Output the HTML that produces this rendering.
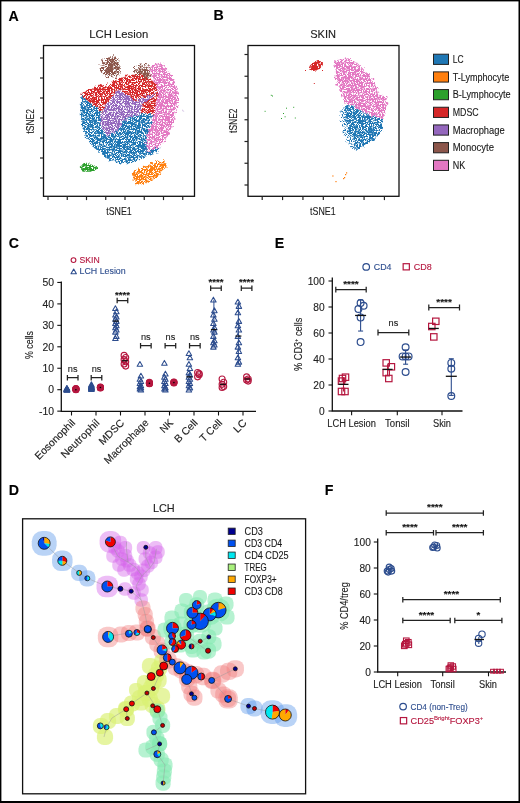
<!DOCTYPE html>
<html><head><meta charset="utf-8"><style>
html,body{margin:0;padding:0;background:#fff;}
svg{display:block;font-family:"Liberation Sans", sans-serif;will-change:transform;}
</style></head><body>
<svg width="520" height="803" viewBox="0 0 520 803">
<defs>
<filter id="spk" x="-10%" y="-10%" width="120%" height="120%" color-interpolation-filters="sRGB">
<feTurbulence type="fractalNoise" baseFrequency="0.3" numOctaves="2" seed="2" result="t1"/>
<feDisplacementMap in="SourceGraphic" in2="t1" scale="6" xChannelSelector="R" yChannelSelector="G" result="d"/>
<feTurbulence type="fractalNoise" baseFrequency="1.7" numOctaves="1" seed="5" result="t2"/>
<feColorMatrix in="t2" type="matrix" values="0 0 0 0 0 0 0 0 0 0 0 0 0 0 0 9 0 0 0 -3.45" result="m"/>
<feComposite in="d" in2="m" operator="in" result="c"/>
<feGaussianBlur in="c" stdDeviation="0.35"/>
</filter>
<filter id="spk2" x="-20%" y="-20%" width="140%" height="140%" color-interpolation-filters="sRGB">
<feTurbulence type="fractalNoise" baseFrequency="0.3" numOctaves="2" seed="3" result="t1"/>
<feDisplacementMap in="SourceGraphic" in2="t1" scale="7" xChannelSelector="R" yChannelSelector="G" result="d"/>
<feTurbulence type="fractalNoise" baseFrequency="1.7" numOctaves="1" seed="9" result="t2"/>
<feColorMatrix in="t2" type="matrix" values="0 0 0 0 0 0 0 0 0 0 0 0 0 0 0 9 0 0 0 -4.2" result="m"/>
<feComposite in="d" in2="m" operator="in" result="c"/>
<feGaussianBlur in="c" stdDeviation="0.35"/>
</filter>
<filter id="spk3" x="-30%" y="-30%" width="160%" height="160%" color-interpolation-filters="sRGB">
<feTurbulence type="fractalNoise" baseFrequency="0.4" numOctaves="2" seed="4" result="t1"/>
<feDisplacementMap in="SourceGraphic" in2="t1" scale="3" xChannelSelector="R" yChannelSelector="G" result="d"/>
<feTurbulence type="fractalNoise" baseFrequency="1.7" numOctaves="1" seed="11" result="t2"/>
<feColorMatrix in="t2" type="matrix" values="0 0 0 0 0 0 0 0 0 0 0 0 0 0 0 9 0 0 0 -3.0" result="m"/>
<feComposite in="d" in2="m" operator="in" result="c"/>
<feGaussianBlur in="c" stdDeviation="0.3"/>
</filter>
</defs>
<rect x="0" y="0" width="520" height="803" fill="#fff"/>
<text x="118.80" y="37.70" font-size="11.2" text-anchor="middle" fill="#222" stroke="#222" stroke-width="0.12" textLength="59" lengthAdjust="spacingAndGlyphs" >LCH Lesion</text>
<g filter="url(#spk2)">
<ellipse cx="111" cy="67.5" rx="10.5" ry="11.5" fill="#8c564b" transform="rotate(0 111 67.5)"/>
<ellipse cx="143" cy="72" rx="9" ry="9" fill="#8c564b" transform="rotate(0 143 72)"/>
</g><g filter="url(#spk)">
<ellipse cx="111.5" cy="67" rx="7" ry="8.5" fill="#8c564b" transform="rotate(10 111.5 67)"/>
<ellipse cx="143" cy="73" rx="6" ry="6" fill="#8c564b" transform="rotate(0 143 73)"/>
<polygon points="81.3,93.1 94.0,86.7 106.7,84.6 119.4,78.3 130.0,75.1 138.5,74.0 149.0,78.3 156.4,84.6 163.0,94.0 163.0,112.0 153.3,114.0 138.5,115.3 140.6,114.2 142.7,103.7 134.2,100.5 129.0,95.2 119.4,89.9 115.2,92.0 109.9,99.4 100.4,114.2 100.4,112.1 81.0,96.0" fill="#d62728"/>
<polygon points="81.3,95.2 100.4,112.1 101.4,126.9 106.7,135.4 117.3,131.2 121.5,122.7 127.9,118.5 140.6,114.2 150.1,114.2 160.0,114.0 158.0,152.0 146.9,155.4 140.0,160.0 130.0,163.0 120.0,163.5 110.0,160.5 100.0,153.0 92.0,146.0 86.0,137.0 82.0,126.0 80.5,110.0" fill="#1f77b4"/>
<polygon points="119.4,89.9 129.0,95.2 134.2,100.5 146.9,96.3 159.6,93.1 142.7,103.7 140.6,114.2 127.9,118.5 121.5,122.7 117.3,131.2 106.7,135.4 101.4,126.9 100.4,114.2 109.9,99.4 115.2,92.0" fill="#9467bd"/>
<polygon points="149.0,67.7 155.0,63.0 162.0,63.5 168.1,69.8 174.4,80.4 178.7,93.1 177.5,105.0 176.5,110.0 172.3,126.9 166.0,139.6 157.5,148.1 146.9,152.3 145.9,139.6 151.2,122.7 155.4,103.7 158.6,91.0 153.3,80.4" fill="#e377c2"/>
</g><g filter="url(#spk3)">
<polygon points="79.5,166.9 84.8,162.2 91.2,164.3 98,168 93.3,171.7 82.7,171.7" fill="#2ca02c"/>
</g><g filter="url(#spk)">
<polygon points="133.5,171.2 141.9,166.9 154.6,162.2 163.1,160 166.8,165.9 161,173.8 152.5,180 141.9,185 135.6,184 132,177.5" fill="#ff7f0e"/>
<path d="M182 109l2 3h-3z" fill="#9467bd" fill-opacity="0.6"/>
</g>
<rect x="43.5" y="45.5" width="151.0" height="150.8" fill="none" stroke="#111" stroke-width="1.3"/>
<line x1="40.00" y1="58.00" x2="43.50" y2="58.00" stroke="#222" stroke-width="1.2" />
<line x1="40.00" y1="78.00" x2="43.50" y2="78.00" stroke="#222" stroke-width="1.2" />
<line x1="40.00" y1="98.00" x2="43.50" y2="98.00" stroke="#222" stroke-width="1.2" />
<line x1="40.00" y1="118.00" x2="43.50" y2="118.00" stroke="#222" stroke-width="1.2" />
<line x1="40.00" y1="138.00" x2="43.50" y2="138.00" stroke="#222" stroke-width="1.2" />
<line x1="40.00" y1="158.00" x2="43.50" y2="158.00" stroke="#222" stroke-width="1.2" />
<line x1="40.00" y1="178.00" x2="43.50" y2="178.00" stroke="#222" stroke-width="1.2" />
<line x1="48.00" y1="196.30" x2="48.00" y2="200.10" stroke="#222" stroke-width="1.2" />
<line x1="67.25" y1="196.30" x2="67.25" y2="200.10" stroke="#222" stroke-width="1.2" />
<line x1="86.50" y1="196.30" x2="86.50" y2="200.10" stroke="#222" stroke-width="1.2" />
<line x1="105.75" y1="196.30" x2="105.75" y2="200.10" stroke="#222" stroke-width="1.2" />
<line x1="125.00" y1="196.30" x2="125.00" y2="200.10" stroke="#222" stroke-width="1.2" />
<line x1="144.25" y1="196.30" x2="144.25" y2="200.10" stroke="#222" stroke-width="1.2" />
<line x1="163.50" y1="196.30" x2="163.50" y2="200.10" stroke="#222" stroke-width="1.2" />
<line x1="182.75" y1="196.30" x2="182.75" y2="200.10" stroke="#222" stroke-width="1.2" />
<text x="119.00" y="214.60" font-size="11.8" text-anchor="middle" fill="#222" stroke="#222" stroke-width="0.12" textLength="25.5" lengthAdjust="spacingAndGlyphs" >tSNE1</text>
<text x="0.00" y="0.00" font-size="11.8" text-anchor="middle" fill="#222" stroke="#222" stroke-width="0.12" textLength="24.5" lengthAdjust="spacingAndGlyphs" transform="translate(34 121.3) rotate(-90)">tSNE2</text>
<text x="323.10" y="37.50" font-size="11.2" text-anchor="middle" fill="#222" stroke="#222" stroke-width="0.12" textLength="25.8" lengthAdjust="spacingAndGlyphs" >SKIN</text>
<g filter="url(#spk)">
<polygon points="335.5,60.3 349.2,58.2 359.8,65.6 368.3,74.0 374.6,82.5 377.8,93.1 386.3,97.3 387.3,103.7 383.1,118.5 372.5,116.4 359.8,111.1 353.5,105.8 346.1,104.7 340.8,93.1 336.5,82.5 334.4,67.7" fill="#e377c2"/>
<polygon points="346.1,104.7 353.5,105.8 359.8,111.1 372.5,116.4 383.1,118.5 382.0,131.2 374.6,139.6 364.0,146.0 355.6,151.3 353.0,141.0 348.0,131.0 346.0,116.0" fill="#1f77b4"/>
</g><g filter="url(#spk2)">
<polygon points="342,108 347,104 348,125 352,140 355,150 349,145 343,134 340,120" fill="#1f77b4"/>
</g><g filter="url(#spk3)">
<ellipse cx="316" cy="66" rx="7.5" ry="4.2" fill="#d62728" transform="rotate(-25 316 66)"/>
</g>
<rect x="270.8" y="94.8" width="1" height="1" fill="#2ca02c"/>
<rect x="264.6" y="110.8" width="1" height="1" fill="#2ca02c"/>
<rect x="284.6" y="116.3" width="1" height="1" fill="#2ca02c"/>
<rect x="286" y="107.7" width="1" height="1" fill="#2ca02c"/>
<rect x="294.8" y="117.5" width="1" height="1" fill="#2ca02c"/>
<rect x="283" y="113" width="1" height="1" fill="#2ca02c"/>
<rect x="281" y="118" width="1" height="1" fill="#2ca02c"/>
<rect x="293.2" y="106.8" width="1" height="1" fill="#2ca02c"/>
<rect x="272" y="95.5" width="1" height="1" fill="#2ca02c"/>
<rect x="313.8" y="83" width="1" height="1" fill="#d62728"/>
<rect x="305" y="70" width="1" height="1" fill="#d62728"/>
<rect x="322" y="70" width="1" height="1" fill="#d62728"/>
<rect x="346" y="172.3" width="1.2" height="1.2" fill="#ff7f0e"/>
<rect x="332.3" y="175.4" width="1.2" height="1.2" fill="#ff7f0e"/>
<rect x="335.4" y="181" width="1.2" height="1.2" fill="#ff7f0e"/>
<rect x="344" y="177" width="1.2" height="1.2" fill="#ff7f0e"/>
<rect x="345" y="174" width="1.2" height="1.2" fill="#ff7f0e"/>
<rect x="343" y="178" width="1.2" height="1.2" fill="#ff7f0e"/>
<rect x="248" y="45.5" width="151" height="150.8" fill="none" stroke="#111" stroke-width="1.3"/>
<line x1="244.50" y1="54.50" x2="248.00" y2="54.50" stroke="#222" stroke-width="1.2" />
<line x1="244.50" y1="76.25" x2="248.00" y2="76.25" stroke="#222" stroke-width="1.2" />
<line x1="244.50" y1="98.00" x2="248.00" y2="98.00" stroke="#222" stroke-width="1.2" />
<line x1="244.50" y1="119.75" x2="248.00" y2="119.75" stroke="#222" stroke-width="1.2" />
<line x1="244.50" y1="141.50" x2="248.00" y2="141.50" stroke="#222" stroke-width="1.2" />
<line x1="244.50" y1="163.25" x2="248.00" y2="163.25" stroke="#222" stroke-width="1.2" />
<line x1="244.50" y1="185.00" x2="248.00" y2="185.00" stroke="#222" stroke-width="1.2" />
<line x1="262.20" y1="196.30" x2="262.20" y2="200.10" stroke="#222" stroke-width="1.2" />
<line x1="282.57" y1="196.30" x2="282.57" y2="200.10" stroke="#222" stroke-width="1.2" />
<line x1="302.94" y1="196.30" x2="302.94" y2="200.10" stroke="#222" stroke-width="1.2" />
<line x1="323.31" y1="196.30" x2="323.31" y2="200.10" stroke="#222" stroke-width="1.2" />
<line x1="343.68" y1="196.30" x2="343.68" y2="200.10" stroke="#222" stroke-width="1.2" />
<line x1="364.05" y1="196.30" x2="364.05" y2="200.10" stroke="#222" stroke-width="1.2" />
<line x1="384.42" y1="196.30" x2="384.42" y2="200.10" stroke="#222" stroke-width="1.2" />
<text x="322.80" y="214.60" font-size="11.8" text-anchor="middle" fill="#222" stroke="#222" stroke-width="0.12" textLength="25.5" lengthAdjust="spacingAndGlyphs" >tSNE1</text>
<text x="0.00" y="0.00" font-size="11.8" text-anchor="middle" fill="#222" stroke="#222" stroke-width="0.12" textLength="24.5" lengthAdjust="spacingAndGlyphs" transform="translate(237 120.7) rotate(-90)">tSNE2</text>
<rect x="433.5" y="54.20" width="15" height="10.2" fill="#1f77b4" stroke="#222" stroke-width="1"/>
<text x="452.70" y="62.90" font-size="10.1" text-anchor="start" fill="#1a1a1a" stroke="#1a1a1a" stroke-width="0.12" textLength="10.8" lengthAdjust="spacingAndGlyphs" >LC</text>
<rect x="433.5" y="71.88" width="15" height="10.2" fill="#ff7f0e" stroke="#222" stroke-width="1"/>
<text x="452.70" y="80.58" font-size="10.1" text-anchor="start" fill="#1a1a1a" stroke="#1a1a1a" stroke-width="0.12" textLength="56.5" lengthAdjust="spacingAndGlyphs" >T-Lymphocyte</text>
<rect x="433.5" y="89.56" width="15" height="10.2" fill="#2ca02c" stroke="#222" stroke-width="1"/>
<text x="452.70" y="98.26" font-size="10.1" text-anchor="start" fill="#1a1a1a" stroke="#1a1a1a" stroke-width="0.12" textLength="58" lengthAdjust="spacingAndGlyphs" >B-Lymphocyte</text>
<rect x="433.5" y="107.24" width="15" height="10.2" fill="#d62728" stroke="#222" stroke-width="1"/>
<text x="452.70" y="115.94" font-size="10.1" text-anchor="start" fill="#1a1a1a" stroke="#1a1a1a" stroke-width="0.12" textLength="26" lengthAdjust="spacingAndGlyphs" >MDSC</text>
<rect x="433.5" y="124.92" width="15" height="10.2" fill="#9467bd" stroke="#222" stroke-width="1"/>
<text x="452.70" y="133.62" font-size="10.1" text-anchor="start" fill="#1a1a1a" stroke="#1a1a1a" stroke-width="0.12" textLength="52" lengthAdjust="spacingAndGlyphs" >Macrophage</text>
<rect x="433.5" y="142.60" width="15" height="10.2" fill="#8c564b" stroke="#222" stroke-width="1"/>
<text x="452.70" y="151.30" font-size="10.1" text-anchor="start" fill="#1a1a1a" stroke="#1a1a1a" stroke-width="0.12" textLength="41.3" lengthAdjust="spacingAndGlyphs" >Monocyte</text>
<rect x="433.5" y="160.28" width="15" height="10.2" fill="#e377c2" stroke="#222" stroke-width="1"/>
<text x="452.70" y="168.98" font-size="10.1" text-anchor="start" fill="#1a1a1a" stroke="#1a1a1a" stroke-width="0.12" textLength="12.5" lengthAdjust="spacingAndGlyphs" >NK</text>
<circle cx="73.50" cy="260.10" r="2.4" fill="none" stroke="#b5173f" stroke-width="1.1"/>
<text x="79.50" y="262.80" font-size="9" text-anchor="start" fill="#b5173f" stroke="#b5173f" stroke-width="0.12" textLength="20.2" lengthAdjust="spacingAndGlyphs" >SKIN</text>
<path d="M73.70 269.09L76.40 273.79H71.00Z" fill="none" stroke="#2d4d8e" stroke-width="1.1" stroke-linejoin="round"/>
<text x="79.50" y="274.30" font-size="9" text-anchor="start" fill="#2d4d8e" stroke="#2d4d8e" stroke-width="0.12" textLength="46.2" lengthAdjust="spacingAndGlyphs" >LCH Lesion</text>
<path d="M61.3 281.5V411.3H256" fill="none" stroke="#111" stroke-width="1.3"/>
<line x1="57.30" y1="411.15" x2="61.30" y2="411.15" stroke="#111" stroke-width="1.1" />
<text x="54.00" y="414.85" font-size="10.4" text-anchor="end" fill="#222" stroke="#222" stroke-width="0.12" >-10</text>
<line x1="57.30" y1="389.70" x2="61.30" y2="389.70" stroke="#111" stroke-width="1.1" />
<text x="54.00" y="393.40" font-size="10.4" text-anchor="end" fill="#222" stroke="#222" stroke-width="0.12" >0</text>
<line x1="57.30" y1="368.25" x2="61.30" y2="368.25" stroke="#111" stroke-width="1.1" />
<text x="54.00" y="371.95" font-size="10.4" text-anchor="end" fill="#222" stroke="#222" stroke-width="0.12" >10</text>
<line x1="57.30" y1="346.80" x2="61.30" y2="346.80" stroke="#111" stroke-width="1.1" />
<text x="54.00" y="350.50" font-size="10.4" text-anchor="end" fill="#222" stroke="#222" stroke-width="0.12" >20</text>
<line x1="57.30" y1="325.35" x2="61.30" y2="325.35" stroke="#111" stroke-width="1.1" />
<text x="54.00" y="329.05" font-size="10.4" text-anchor="end" fill="#222" stroke="#222" stroke-width="0.12" >30</text>
<line x1="57.30" y1="303.90" x2="61.30" y2="303.90" stroke="#111" stroke-width="1.1" />
<text x="54.00" y="307.60" font-size="10.4" text-anchor="end" fill="#222" stroke="#222" stroke-width="0.12" >40</text>
<line x1="57.30" y1="282.45" x2="61.30" y2="282.45" stroke="#111" stroke-width="1.1" />
<text x="54.00" y="286.15" font-size="10.4" text-anchor="end" fill="#222" stroke="#222" stroke-width="0.12" >50</text>
<line x1="71.50" y1="411.30" x2="71.50" y2="415.50" stroke="#111" stroke-width="1.1" />
<line x1="96.00" y1="411.30" x2="96.00" y2="415.50" stroke="#111" stroke-width="1.1" />
<line x1="120.50" y1="411.30" x2="120.50" y2="415.50" stroke="#111" stroke-width="1.1" />
<line x1="145.00" y1="411.30" x2="145.00" y2="415.50" stroke="#111" stroke-width="1.1" />
<line x1="169.50" y1="411.30" x2="169.50" y2="415.50" stroke="#111" stroke-width="1.1" />
<line x1="194.00" y1="411.30" x2="194.00" y2="415.50" stroke="#111" stroke-width="1.1" />
<line x1="218.50" y1="411.30" x2="218.50" y2="415.50" stroke="#111" stroke-width="1.1" />
<line x1="243.00" y1="411.30" x2="243.00" y2="415.50" stroke="#111" stroke-width="1.1" />
<text x="0.00" y="0.00" font-size="10.5" text-anchor="middle" fill="#222" stroke="#222" stroke-width="0.12" textLength="28" lengthAdjust="spacingAndGlyphs" transform="translate(32.6 345) rotate(-90)">% cells</text>
<text x="0.00" y="0.00" font-size="10.5" text-anchor="end" fill="#222" stroke="#222" stroke-width="0.12" textLength="52" lengthAdjust="spacingAndGlyphs" transform="translate(75.80 423.50) rotate(-45)">Eosonophil</text>
<text x="0.00" y="0.00" font-size="10.5" text-anchor="end" fill="#222" stroke="#222" stroke-width="0.12" textLength="50" lengthAdjust="spacingAndGlyphs" transform="translate(100.30 423.50) rotate(-45)">Neutrophil</text>
<text x="0.00" y="0.00" font-size="10.5" text-anchor="end" fill="#222" stroke="#222" stroke-width="0.12" textLength="31" lengthAdjust="spacingAndGlyphs" transform="translate(124.80 423.50) rotate(-45)">MDSC</text>
<text x="0.00" y="0.00" font-size="10.5" text-anchor="end" fill="#222" stroke="#222" stroke-width="0.12" textLength="58" lengthAdjust="spacingAndGlyphs" transform="translate(149.30 423.50) rotate(-45)">Macrophage</text>
<text x="0.00" y="0.00" font-size="10.5" text-anchor="end" fill="#222" stroke="#222" stroke-width="0.12" textLength="14" lengthAdjust="spacingAndGlyphs" transform="translate(173.80 423.50) rotate(-45)">NK</text>
<text x="0.00" y="0.00" font-size="10.5" text-anchor="end" fill="#222" stroke="#222" stroke-width="0.12" textLength="28" lengthAdjust="spacingAndGlyphs" transform="translate(198.30 423.50) rotate(-45)">B Cell</text>
<text x="0.00" y="0.00" font-size="10.5" text-anchor="end" fill="#222" stroke="#222" stroke-width="0.12" textLength="27" lengthAdjust="spacingAndGlyphs" transform="translate(222.80 423.50) rotate(-45)">T Cell</text>
<text x="0.00" y="0.00" font-size="10.5" text-anchor="end" fill="#222" stroke="#222" stroke-width="0.12" textLength="14" lengthAdjust="spacingAndGlyphs" transform="translate(247.30 423.50) rotate(-45)">LC</text>
<path d="M66.90 387.23L69.65 392.02H64.15Z" fill="#2d4d8e" stroke="#2d4d8e" stroke-width="1.05" stroke-linejoin="round"/>
<path d="M66.90 387.23L69.65 392.02H64.15Z" fill="#2d4d8e" stroke="#2d4d8e" stroke-width="1.05" stroke-linejoin="round"/>
<path d="M66.90 386.59L69.65 391.37H64.15Z" fill="#2d4d8e" stroke="#2d4d8e" stroke-width="1.05" stroke-linejoin="round"/>
<path d="M66.90 386.16L69.65 390.95H64.15Z" fill="#2d4d8e" stroke="#2d4d8e" stroke-width="1.05" stroke-linejoin="round"/>
<path d="M66.90 387.23L69.65 392.02H64.15Z" fill="#2d4d8e" stroke="#2d4d8e" stroke-width="1.05" stroke-linejoin="round"/>
<path d="M66.90 386.80L69.65 391.59H64.15Z" fill="#2d4d8e" stroke="#2d4d8e" stroke-width="1.05" stroke-linejoin="round"/>
<path d="M66.90 385.52L69.65 390.30H64.15Z" fill="#2d4d8e" stroke="#2d4d8e" stroke-width="1.05" stroke-linejoin="round"/>
<path d="M66.90 386.38L69.65 391.16H64.15Z" fill="#2d4d8e" stroke="#2d4d8e" stroke-width="1.05" stroke-linejoin="round"/>
<path d="M66.90 387.02L69.65 391.80H64.15Z" fill="#2d4d8e" stroke="#2d4d8e" stroke-width="1.05" stroke-linejoin="round"/>
<path d="M66.90 385.95L69.65 390.73H64.15Z" fill="#2d4d8e" stroke="#2d4d8e" stroke-width="1.05" stroke-linejoin="round"/>
<circle cx="75.90" cy="389.70" r="3.0" fill="#b5173f" stroke="#b5173f" stroke-width="1.1"/>
<circle cx="75.90" cy="389.27" r="3.0" fill="#b5173f" stroke="#b5173f" stroke-width="1.1"/>
<circle cx="75.90" cy="388.63" r="3.0" fill="#b5173f" stroke="#b5173f" stroke-width="1.1"/>
<circle cx="75.90" cy="389.06" r="3.0" fill="#b5173f" stroke="#b5173f" stroke-width="1.1"/>
<circle cx="75.90" cy="389.49" r="3.0" fill="#b5173f" stroke="#b5173f" stroke-width="1.1"/>
<circle cx="75.90" cy="388.84" r="3.0" fill="#b5173f" stroke="#b5173f" stroke-width="1.1"/>
<circle cx="75.90" cy="389.70" r="0.8" fill="#000"/>
<path d="M91.40 386.16L94.15 390.95H88.65Z" fill="#2d4d8e" stroke="#2d4d8e" stroke-width="1.05" stroke-linejoin="round"/>
<path d="M91.40 385.09L94.15 389.87H88.65Z" fill="#2d4d8e" stroke="#2d4d8e" stroke-width="1.05" stroke-linejoin="round"/>
<path d="M91.40 384.02L94.15 388.80H88.65Z" fill="#2d4d8e" stroke="#2d4d8e" stroke-width="1.05" stroke-linejoin="round"/>
<path d="M91.40 382.94L94.15 387.73H88.65Z" fill="#2d4d8e" stroke="#2d4d8e" stroke-width="1.05" stroke-linejoin="round"/>
<path d="M91.40 381.87L94.15 386.66H88.65Z" fill="#2d4d8e" stroke="#2d4d8e" stroke-width="1.05" stroke-linejoin="round"/>
<path d="M91.40 385.09L94.15 389.87H88.65Z" fill="#2d4d8e" stroke="#2d4d8e" stroke-width="1.05" stroke-linejoin="round"/>
<path d="M91.40 385.52L94.15 390.30H88.65Z" fill="#2d4d8e" stroke="#2d4d8e" stroke-width="1.05" stroke-linejoin="round"/>
<path d="M91.40 384.66L94.15 389.44H88.65Z" fill="#2d4d8e" stroke="#2d4d8e" stroke-width="1.05" stroke-linejoin="round"/>
<path d="M91.40 383.37L94.15 388.16H88.65Z" fill="#2d4d8e" stroke="#2d4d8e" stroke-width="1.05" stroke-linejoin="round"/>
<path d="M91.40 386.59L94.15 391.37H88.65Z" fill="#2d4d8e" stroke="#2d4d8e" stroke-width="1.05" stroke-linejoin="round"/>
<circle cx="100.40" cy="387.56" r="3.0" fill="#b5173f" stroke="#b5173f" stroke-width="1.1"/>
<circle cx="100.40" cy="387.13" r="3.0" fill="#b5173f" stroke="#b5173f" stroke-width="1.1"/>
<circle cx="100.40" cy="387.98" r="3.0" fill="#b5173f" stroke="#b5173f" stroke-width="1.1"/>
<circle cx="100.40" cy="387.34" r="3.0" fill="#b5173f" stroke="#b5173f" stroke-width="1.1"/>
<circle cx="100.40" cy="387.77" r="3.0" fill="#b5173f" stroke="#b5173f" stroke-width="1.1"/>
<circle cx="100.40" cy="387.56" r="0.8" fill="#000"/>
<path d="M115.40 305.72L118.15 310.51H112.65Z" fill="none" stroke="#2d4d8e" stroke-width="1.05" stroke-linejoin="round"/>
<path d="M116.40 308.94L119.15 313.73H113.65Z" fill="none" stroke="#2d4d8e" stroke-width="1.05" stroke-linejoin="round"/>
<path d="M115.40 312.16L118.15 316.94H112.65Z" fill="none" stroke="#2d4d8e" stroke-width="1.05" stroke-linejoin="round"/>
<path d="M116.40 314.30L119.15 319.09H113.65Z" fill="none" stroke="#2d4d8e" stroke-width="1.05" stroke-linejoin="round"/>
<path d="M115.40 316.45L118.15 321.23H112.65Z" fill="none" stroke="#2d4d8e" stroke-width="1.05" stroke-linejoin="round"/>
<path d="M116.40 318.59L119.15 323.38H113.65Z" fill="none" stroke="#2d4d8e" stroke-width="1.05" stroke-linejoin="round"/>
<path d="M115.40 320.74L118.15 325.52H112.65Z" fill="none" stroke="#2d4d8e" stroke-width="1.05" stroke-linejoin="round"/>
<path d="M116.40 322.88L119.15 327.67H113.65Z" fill="none" stroke="#2d4d8e" stroke-width="1.05" stroke-linejoin="round"/>
<path d="M115.40 325.03L118.15 329.81H112.65Z" fill="none" stroke="#2d4d8e" stroke-width="1.05" stroke-linejoin="round"/>
<path d="M116.40 327.17L119.15 331.96H113.65Z" fill="none" stroke="#2d4d8e" stroke-width="1.05" stroke-linejoin="round"/>
<path d="M115.40 329.32L118.15 334.10H112.65Z" fill="none" stroke="#2d4d8e" stroke-width="1.05" stroke-linejoin="round"/>
<path d="M116.40 333.61L119.15 338.39H113.65Z" fill="none" stroke="#2d4d8e" stroke-width="1.05" stroke-linejoin="round"/>
<path d="M115.40 335.75L118.15 340.54H112.65Z" fill="none" stroke="#2d4d8e" stroke-width="1.05" stroke-linejoin="round"/>
<circle cx="124.10" cy="355.38" r="3.0" fill="none" stroke="#b5173f" stroke-width="1.1"/>
<circle cx="125.70" cy="357.52" r="3.0" fill="none" stroke="#b5173f" stroke-width="1.1"/>
<circle cx="124.10" cy="359.67" r="3.0" fill="none" stroke="#b5173f" stroke-width="1.1"/>
<circle cx="125.70" cy="361.81" r="3.0" fill="none" stroke="#b5173f" stroke-width="1.1"/>
<circle cx="124.10" cy="363.96" r="3.0" fill="none" stroke="#b5173f" stroke-width="1.1"/>
<circle cx="125.70" cy="366.11" r="3.0" fill="none" stroke="#b5173f" stroke-width="1.1"/>
<line x1="112.90" y1="321.06" x2="118.90" y2="321.06" stroke="#111" stroke-width="1.2" />
<line x1="121.90" y1="360.74" x2="127.90" y2="360.74" stroke="#111" stroke-width="1.2" />
<path d="M139.90 361.49L142.65 366.28H137.15Z" fill="none" stroke="#2d4d8e" stroke-width="1.05" stroke-linejoin="round"/>
<path d="M140.90 373.29L143.65 378.08H138.15Z" fill="none" stroke="#2d4d8e" stroke-width="1.05" stroke-linejoin="round"/>
<path d="M139.90 376.51L142.65 381.29H137.15Z" fill="none" stroke="#2d4d8e" stroke-width="1.05" stroke-linejoin="round"/>
<path d="M140.90 378.65L143.65 383.44H138.15Z" fill="none" stroke="#2d4d8e" stroke-width="1.05" stroke-linejoin="round"/>
<path d="M139.90 380.80L142.65 385.58H137.15Z" fill="none" stroke="#2d4d8e" stroke-width="1.05" stroke-linejoin="round"/>
<path d="M140.90 382.94L143.65 387.73H138.15Z" fill="none" stroke="#2d4d8e" stroke-width="1.05" stroke-linejoin="round"/>
<path d="M139.90 384.02L142.65 388.80H137.15Z" fill="none" stroke="#2d4d8e" stroke-width="1.05" stroke-linejoin="round"/>
<path d="M140.90 385.09L143.65 389.87H138.15Z" fill="none" stroke="#2d4d8e" stroke-width="1.05" stroke-linejoin="round"/>
<path d="M139.90 386.16L142.65 390.95H137.15Z" fill="none" stroke="#2d4d8e" stroke-width="1.05" stroke-linejoin="round"/>
<path d="M140.90 387.23L143.65 392.02H138.15Z" fill="none" stroke="#2d4d8e" stroke-width="1.05" stroke-linejoin="round"/>
<circle cx="149.40" cy="383.26" r="3.0" fill="#b5173f" stroke="#b5173f" stroke-width="1.1"/>
<circle cx="149.40" cy="382.84" r="3.0" fill="#b5173f" stroke="#b5173f" stroke-width="1.1"/>
<circle cx="149.40" cy="383.69" r="3.0" fill="#b5173f" stroke="#b5173f" stroke-width="1.1"/>
<circle cx="149.40" cy="382.41" r="3.0" fill="#b5173f" stroke="#b5173f" stroke-width="1.1"/>
<circle cx="149.40" cy="383.48" r="3.0" fill="#b5173f" stroke="#b5173f" stroke-width="1.1"/>
<circle cx="149.40" cy="383.26" r="0.8" fill="#000"/>
<path d="M164.40 360.42L167.15 365.21H161.65Z" fill="none" stroke="#2d4d8e" stroke-width="1.05" stroke-linejoin="round"/>
<path d="M165.40 371.15L168.15 375.93H162.65Z" fill="none" stroke="#2d4d8e" stroke-width="1.05" stroke-linejoin="round"/>
<path d="M164.40 374.36L167.15 379.15H161.65Z" fill="none" stroke="#2d4d8e" stroke-width="1.05" stroke-linejoin="round"/>
<path d="M165.40 376.51L168.15 381.29H162.65Z" fill="none" stroke="#2d4d8e" stroke-width="1.05" stroke-linejoin="round"/>
<path d="M164.40 378.65L167.15 383.44H161.65Z" fill="none" stroke="#2d4d8e" stroke-width="1.05" stroke-linejoin="round"/>
<path d="M165.40 380.80L168.15 385.58H162.65Z" fill="none" stroke="#2d4d8e" stroke-width="1.05" stroke-linejoin="round"/>
<path d="M164.40 382.94L167.15 387.73H161.65Z" fill="none" stroke="#2d4d8e" stroke-width="1.05" stroke-linejoin="round"/>
<path d="M165.40 385.09L168.15 389.87H162.65Z" fill="none" stroke="#2d4d8e" stroke-width="1.05" stroke-linejoin="round"/>
<path d="M164.40 386.16L167.15 390.95H161.65Z" fill="none" stroke="#2d4d8e" stroke-width="1.05" stroke-linejoin="round"/>
<path d="M165.40 387.23L168.15 392.02H162.65Z" fill="none" stroke="#2d4d8e" stroke-width="1.05" stroke-linejoin="round"/>
<circle cx="173.90" cy="382.62" r="3.0" fill="#b5173f" stroke="#b5173f" stroke-width="1.1"/>
<circle cx="173.90" cy="382.19" r="3.0" fill="#b5173f" stroke="#b5173f" stroke-width="1.1"/>
<circle cx="173.90" cy="383.05" r="3.0" fill="#b5173f" stroke="#b5173f" stroke-width="1.1"/>
<circle cx="173.90" cy="381.98" r="3.0" fill="#b5173f" stroke="#b5173f" stroke-width="1.1"/>
<circle cx="173.90" cy="382.62" r="0.8" fill="#000"/>
<path d="M188.90 350.77L191.65 355.55H186.15Z" fill="none" stroke="#2d4d8e" stroke-width="1.05" stroke-linejoin="round"/>
<path d="M189.90 355.06L192.65 359.84H187.15Z" fill="none" stroke="#2d4d8e" stroke-width="1.05" stroke-linejoin="round"/>
<path d="M188.90 361.49L191.65 366.28H186.15Z" fill="none" stroke="#2d4d8e" stroke-width="1.05" stroke-linejoin="round"/>
<path d="M189.90 365.78L192.65 370.57H187.15Z" fill="none" stroke="#2d4d8e" stroke-width="1.05" stroke-linejoin="round"/>
<path d="M188.90 370.07L191.65 374.86H186.15Z" fill="none" stroke="#2d4d8e" stroke-width="1.05" stroke-linejoin="round"/>
<path d="M189.90 372.22L192.65 377.00H187.15Z" fill="none" stroke="#2d4d8e" stroke-width="1.05" stroke-linejoin="round"/>
<path d="M188.90 374.36L191.65 379.15H186.15Z" fill="none" stroke="#2d4d8e" stroke-width="1.05" stroke-linejoin="round"/>
<path d="M189.90 376.51L192.65 381.29H187.15Z" fill="none" stroke="#2d4d8e" stroke-width="1.05" stroke-linejoin="round"/>
<path d="M188.90 378.65L191.65 383.44H186.15Z" fill="none" stroke="#2d4d8e" stroke-width="1.05" stroke-linejoin="round"/>
<path d="M189.90 380.80L192.65 385.58H187.15Z" fill="none" stroke="#2d4d8e" stroke-width="1.05" stroke-linejoin="round"/>
<path d="M188.90 382.94L191.65 387.73H186.15Z" fill="none" stroke="#2d4d8e" stroke-width="1.05" stroke-linejoin="round"/>
<path d="M189.90 385.09L192.65 389.87H187.15Z" fill="none" stroke="#2d4d8e" stroke-width="1.05" stroke-linejoin="round"/>
<path d="M188.90 387.23L191.65 392.02H186.15Z" fill="none" stroke="#2d4d8e" stroke-width="1.05" stroke-linejoin="round"/>
<circle cx="197.60" cy="372.54" r="3.0" fill="none" stroke="#b5173f" stroke-width="1.1"/>
<circle cx="199.20" cy="374.69" r="3.0" fill="none" stroke="#b5173f" stroke-width="1.1"/>
<circle cx="197.60" cy="376.83" r="3.0" fill="none" stroke="#b5173f" stroke-width="1.1"/>
<circle cx="199.20" cy="373.61" r="3.0" fill="none" stroke="#b5173f" stroke-width="1.1"/>
<line x1="186.40" y1="376.83" x2="192.40" y2="376.83" stroke="#111" stroke-width="1.2" />
<line x1="213.90" y1="299.61" x2="213.90" y2="346.80" stroke="#2d4d8e" stroke-width="1.0" />
<path d="M213.40 297.14L216.15 301.93H210.65Z" fill="none" stroke="#2d4d8e" stroke-width="1.05" stroke-linejoin="round"/>
<path d="M214.40 307.87L217.15 312.65H211.65Z" fill="none" stroke="#2d4d8e" stroke-width="1.05" stroke-linejoin="round"/>
<path d="M213.40 312.16L216.15 316.94H210.65Z" fill="none" stroke="#2d4d8e" stroke-width="1.05" stroke-linejoin="round"/>
<path d="M214.40 316.45L217.15 321.23H211.65Z" fill="none" stroke="#2d4d8e" stroke-width="1.05" stroke-linejoin="round"/>
<path d="M213.40 320.74L216.15 325.52H210.65Z" fill="none" stroke="#2d4d8e" stroke-width="1.05" stroke-linejoin="round"/>
<path d="M214.40 325.03L217.15 329.81H211.65Z" fill="none" stroke="#2d4d8e" stroke-width="1.05" stroke-linejoin="round"/>
<path d="M213.40 327.17L216.15 331.96H210.65Z" fill="none" stroke="#2d4d8e" stroke-width="1.05" stroke-linejoin="round"/>
<path d="M214.40 329.32L217.15 334.10H211.65Z" fill="none" stroke="#2d4d8e" stroke-width="1.05" stroke-linejoin="round"/>
<path d="M213.40 333.61L216.15 338.39H210.65Z" fill="none" stroke="#2d4d8e" stroke-width="1.05" stroke-linejoin="round"/>
<path d="M214.40 337.90L217.15 342.68H211.65Z" fill="none" stroke="#2d4d8e" stroke-width="1.05" stroke-linejoin="round"/>
<path d="M213.40 340.04L216.15 344.83H210.65Z" fill="none" stroke="#2d4d8e" stroke-width="1.05" stroke-linejoin="round"/>
<path d="M214.40 342.19L217.15 346.97H211.65Z" fill="none" stroke="#2d4d8e" stroke-width="1.05" stroke-linejoin="round"/>
<path d="M213.40 344.33L216.15 349.12H210.65Z" fill="none" stroke="#2d4d8e" stroke-width="1.05" stroke-linejoin="round"/>
<circle cx="222.10" cy="378.97" r="3.0" fill="none" stroke="#b5173f" stroke-width="1.1"/>
<circle cx="223.70" cy="382.19" r="3.0" fill="none" stroke="#b5173f" stroke-width="1.1"/>
<circle cx="222.10" cy="384.34" r="3.0" fill="none" stroke="#b5173f" stroke-width="1.1"/>
<circle cx="223.70" cy="386.48" r="3.0" fill="none" stroke="#b5173f" stroke-width="1.1"/>
<circle cx="222.10" cy="387.56" r="3.0" fill="none" stroke="#b5173f" stroke-width="1.1"/>
<line x1="210.90" y1="329.64" x2="216.90" y2="329.64" stroke="#111" stroke-width="1.2" />
<line x1="219.90" y1="384.34" x2="225.90" y2="384.34" stroke="#111" stroke-width="1.2" />
<line x1="238.40" y1="301.75" x2="238.40" y2="363.96" stroke="#2d4d8e" stroke-width="1.0" />
<path d="M237.90 299.29L240.65 304.07H235.15Z" fill="none" stroke="#2d4d8e" stroke-width="1.05" stroke-linejoin="round"/>
<path d="M238.90 303.58L241.65 308.36H236.15Z" fill="none" stroke="#2d4d8e" stroke-width="1.05" stroke-linejoin="round"/>
<path d="M237.90 310.01L240.65 314.80H235.15Z" fill="none" stroke="#2d4d8e" stroke-width="1.05" stroke-linejoin="round"/>
<path d="M238.90 318.59L241.65 323.38H236.15Z" fill="none" stroke="#2d4d8e" stroke-width="1.05" stroke-linejoin="round"/>
<path d="M237.90 322.88L240.65 327.67H235.15Z" fill="none" stroke="#2d4d8e" stroke-width="1.05" stroke-linejoin="round"/>
<path d="M238.90 327.17L241.65 331.96H236.15Z" fill="none" stroke="#2d4d8e" stroke-width="1.05" stroke-linejoin="round"/>
<path d="M237.90 333.61L240.65 338.39H235.15Z" fill="none" stroke="#2d4d8e" stroke-width="1.05" stroke-linejoin="round"/>
<path d="M238.90 340.04L241.65 344.83H236.15Z" fill="none" stroke="#2d4d8e" stroke-width="1.05" stroke-linejoin="round"/>
<path d="M237.90 344.33L240.65 349.12H235.15Z" fill="none" stroke="#2d4d8e" stroke-width="1.05" stroke-linejoin="round"/>
<path d="M238.90 348.62L241.65 353.41H236.15Z" fill="none" stroke="#2d4d8e" stroke-width="1.05" stroke-linejoin="round"/>
<path d="M237.90 355.06L240.65 359.84H235.15Z" fill="none" stroke="#2d4d8e" stroke-width="1.05" stroke-linejoin="round"/>
<path d="M238.90 359.35L241.65 364.13H236.15Z" fill="none" stroke="#2d4d8e" stroke-width="1.05" stroke-linejoin="round"/>
<path d="M237.90 361.49L240.65 366.28H235.15Z" fill="none" stroke="#2d4d8e" stroke-width="1.05" stroke-linejoin="round"/>
<circle cx="246.60" cy="376.83" r="3.0" fill="none" stroke="#b5173f" stroke-width="1.1"/>
<circle cx="248.20" cy="378.97" r="3.0" fill="none" stroke="#b5173f" stroke-width="1.1"/>
<circle cx="246.60" cy="380.05" r="3.0" fill="none" stroke="#b5173f" stroke-width="1.1"/>
<circle cx="248.20" cy="381.12" r="3.0" fill="none" stroke="#b5173f" stroke-width="1.1"/>
<line x1="235.40" y1="336.07" x2="241.40" y2="336.07" stroke="#111" stroke-width="1.2" />
<line x1="244.40" y1="378.97" x2="250.40" y2="378.97" stroke="#111" stroke-width="1.2" />
<path d="M67.40 374.95V380.45M78.00 374.95V380.45M67.40 377.70H78.00" stroke="#222" stroke-width="1.25" fill="none"/>
<text x="72.70" y="371.60" font-size="9.2" text-anchor="middle" fill="#222" stroke="#222" stroke-width="0.12" >ns</text>
<path d="M91.20 374.95V380.45M101.80 374.95V380.45M91.20 377.70H101.80" stroke="#222" stroke-width="1.25" fill="none"/>
<text x="96.50" y="371.60" font-size="9.2" text-anchor="middle" fill="#222" stroke="#222" stroke-width="0.12" >ns</text>
<path d="M117.15 297.85V303.35M127.75 297.85V303.35M117.15 300.60H127.75" stroke="#222" stroke-width="1.25" fill="none"/>
<text x="122.45" y="297.60" font-size="9.5" text-anchor="middle" fill="#111" stroke="#111" stroke-width="0.12" font-weight="bold" textLength="15" lengthAdjust="spacingAndGlyphs" >****</text>
<path d="M140.55 342.95V348.45M151.15 342.95V348.45M140.55 345.70H151.15" stroke="#222" stroke-width="1.25" fill="none"/>
<text x="145.85" y="339.60" font-size="9.2" text-anchor="middle" fill="#222" stroke="#222" stroke-width="0.12" >ns</text>
<path d="M165.10 342.95V348.45M175.70 342.95V348.45M165.10 345.70H175.70" stroke="#222" stroke-width="1.25" fill="none"/>
<text x="170.40" y="339.60" font-size="9.2" text-anchor="middle" fill="#222" stroke="#222" stroke-width="0.12" >ns</text>
<path d="M189.55 342.95V348.45M200.15 342.95V348.45M189.55 345.70H200.15" stroke="#222" stroke-width="1.25" fill="none"/>
<text x="194.85" y="339.60" font-size="9.2" text-anchor="middle" fill="#222" stroke="#222" stroke-width="0.12" >ns</text>
<path d="M210.65 285.45V290.95M221.25 285.45V290.95M210.65 288.20H221.25" stroke="#222" stroke-width="1.25" fill="none"/>
<text x="215.95" y="285.20" font-size="9.5" text-anchor="middle" fill="#111" stroke="#111" stroke-width="0.12" font-weight="bold" textLength="15" lengthAdjust="spacingAndGlyphs" >****</text>
<path d="M241.30 285.45V290.95M251.90 285.45V290.95M241.30 288.20H251.90" stroke="#222" stroke-width="1.25" fill="none"/>
<text x="246.60" y="285.20" font-size="9.5" text-anchor="middle" fill="#111" stroke="#111" stroke-width="0.12" font-weight="bold" textLength="15" lengthAdjust="spacingAndGlyphs" >****</text>
<circle cx="366.20" cy="266.90" r="3.3" fill="none" stroke="#2d4d8e" stroke-width="1.2"/>
<text x="373.80" y="270.10" font-size="9.2" text-anchor="start" fill="#2d4d8e" stroke="#2d4d8e" stroke-width="0.12" textLength="17.7" lengthAdjust="spacingAndGlyphs" >CD4</text>
<rect x="403.15" y="263.70" width="6.2" height="6.2" fill="none" stroke="#b5173f" stroke-width="1.2"/>
<text x="413.80" y="270.10" font-size="9.2" text-anchor="start" fill="#b5173f" stroke="#b5173f" stroke-width="0.12" textLength="18" lengthAdjust="spacingAndGlyphs" >CD8</text>
<path d="M332.3 277.4V411H462.5" fill="none" stroke="#111" stroke-width="1.3"/>
<line x1="328.50" y1="411.00" x2="332.30" y2="411.00" stroke="#111" stroke-width="1.1" />
<text x="324.70" y="414.70" font-size="10.2" text-anchor="end" fill="#222" stroke="#222" stroke-width="0.12" >0</text>
<line x1="328.50" y1="385.00" x2="332.30" y2="385.00" stroke="#111" stroke-width="1.1" />
<text x="324.70" y="388.70" font-size="10.2" text-anchor="end" fill="#222" stroke="#222" stroke-width="0.12" >20</text>
<line x1="328.50" y1="359.00" x2="332.30" y2="359.00" stroke="#111" stroke-width="1.1" />
<text x="324.70" y="362.70" font-size="10.2" text-anchor="end" fill="#222" stroke="#222" stroke-width="0.12" >40</text>
<line x1="328.50" y1="333.00" x2="332.30" y2="333.00" stroke="#111" stroke-width="1.1" />
<text x="324.70" y="336.70" font-size="10.2" text-anchor="end" fill="#222" stroke="#222" stroke-width="0.12" >60</text>
<line x1="328.50" y1="307.00" x2="332.30" y2="307.00" stroke="#111" stroke-width="1.1" />
<text x="324.70" y="310.70" font-size="10.2" text-anchor="end" fill="#222" stroke="#222" stroke-width="0.12" >80</text>
<line x1="328.50" y1="281.00" x2="332.30" y2="281.00" stroke="#111" stroke-width="1.1" />
<text x="324.70" y="284.70" font-size="10.2" text-anchor="end" fill="#222" stroke="#222" stroke-width="0.12" >100</text>
<line x1="351.60" y1="411.00" x2="351.60" y2="415.30" stroke="#111" stroke-width="1.1" />
<line x1="397.30" y1="411.00" x2="397.30" y2="415.30" stroke="#111" stroke-width="1.1" />
<line x1="442.00" y1="411.00" x2="442.00" y2="415.30" stroke="#111" stroke-width="1.1" />
<text x="351.60" y="427.20" font-size="10" text-anchor="middle" fill="#222" stroke="#222" stroke-width="0.12" textLength="48.7" lengthAdjust="spacingAndGlyphs" >LCH Lesion</text>
<text x="397.30" y="427.20" font-size="10" text-anchor="middle" fill="#222" stroke="#222" stroke-width="0.12" textLength="24.5" lengthAdjust="spacingAndGlyphs" >Tonsil</text>
<text x="442.00" y="427.20" font-size="10" text-anchor="middle" fill="#222" stroke="#222" stroke-width="0.12" textLength="18" lengthAdjust="spacingAndGlyphs" >Skin</text>
<text x="0.00" y="0.00" font-size="10.5" text-anchor="middle" fill="#222" stroke="#222" stroke-width="0.12" textLength="53.5" lengthAdjust="spacingAndGlyphs" transform="translate(301.5 344.3) rotate(-90)">% CD3<tspan font-size="6" dy="-4">+</tspan><tspan dy="4"> cells</tspan></text>
<line x1="343.50" y1="391.50" x2="343.50" y2="377.20" stroke="#b5173f" stroke-width="1.1" />
<rect x="342.30" y="374.00" width="6.4" height="6.4" fill="none" stroke="#b5173f" stroke-width="1.2"/>
<rect x="339.30" y="375.30" width="6.4" height="6.4" fill="none" stroke="#b5173f" stroke-width="1.2"/>
<rect x="338.30" y="377.90" width="6.4" height="6.4" fill="none" stroke="#b5173f" stroke-width="1.2"/>
<rect x="338.30" y="388.30" width="6.4" height="6.4" fill="none" stroke="#b5173f" stroke-width="1.2"/>
<rect x="341.80" y="388.30" width="6.4" height="6.4" fill="none" stroke="#b5173f" stroke-width="1.2"/>
<line x1="338.50" y1="384.35" x2="348.50" y2="384.35" stroke="#111" stroke-width="1.3" />
<line x1="387.60" y1="375.90" x2="387.60" y2="364.20" stroke="#b5173f" stroke-width="1.1" />
<rect x="383.00" y="359.70" width="6.4" height="6.4" fill="none" stroke="#b5173f" stroke-width="1.2"/>
<rect x="388.20" y="363.60" width="6.4" height="6.4" fill="none" stroke="#b5173f" stroke-width="1.2"/>
<rect x="383.00" y="369.45" width="6.4" height="6.4" fill="none" stroke="#b5173f" stroke-width="1.2"/>
<rect x="385.60" y="375.30" width="6.4" height="6.4" fill="none" stroke="#b5173f" stroke-width="1.2"/>
<line x1="382.60" y1="369.40" x2="392.60" y2="369.40" stroke="#111" stroke-width="1.3" />
<rect x="432.60" y="318.10" width="6.4" height="6.4" fill="none" stroke="#b5173f" stroke-width="1.2"/>
<rect x="428.60" y="323.30" width="6.4" height="6.4" fill="none" stroke="#b5173f" stroke-width="1.2"/>
<rect x="430.60" y="333.70" width="6.4" height="6.4" fill="none" stroke="#b5173f" stroke-width="1.2"/>
<line x1="428.80" y1="328.45" x2="438.80" y2="328.45" stroke="#111" stroke-width="1.3" />
<line x1="360.60" y1="331.05" x2="360.60" y2="299.85" stroke="#2d4d8e" stroke-width="1.1" />
<line x1="358.10" y1="299.85" x2="363.10" y2="299.85" stroke="#2d4d8e" stroke-width="1.1" />
<line x1="358.10" y1="331.05" x2="363.10" y2="331.05" stroke="#2d4d8e" stroke-width="1.1" />
<circle cx="360.60" cy="303.10" r="3.4" fill="none" stroke="#2d4d8e" stroke-width="1.2"/>
<circle cx="363.60" cy="305.70" r="3.4" fill="none" stroke="#2d4d8e" stroke-width="1.2"/>
<circle cx="358.40" cy="308.95" r="3.4" fill="none" stroke="#2d4d8e" stroke-width="1.2"/>
<circle cx="360.60" cy="317.40" r="3.4" fill="none" stroke="#2d4d8e" stroke-width="1.2"/>
<circle cx="360.60" cy="342.10" r="3.4" fill="none" stroke="#2d4d8e" stroke-width="1.2"/>
<line x1="355.10" y1="315.45" x2="366.10" y2="315.45" stroke="#111" stroke-width="1.3" />
<line x1="405.60" y1="364.20" x2="405.60" y2="349.90" stroke="#2d4d8e" stroke-width="1.1" />
<line x1="403.10" y1="349.90" x2="408.10" y2="349.90" stroke="#2d4d8e" stroke-width="1.1" />
<line x1="403.10" y1="364.20" x2="408.10" y2="364.20" stroke="#2d4d8e" stroke-width="1.1" />
<circle cx="405.60" cy="347.30" r="3.4" fill="none" stroke="#2d4d8e" stroke-width="1.2"/>
<circle cx="402.60" cy="356.40" r="3.4" fill="none" stroke="#2d4d8e" stroke-width="1.2"/>
<circle cx="405.60" cy="356.40" r="3.4" fill="none" stroke="#2d4d8e" stroke-width="1.2"/>
<circle cx="408.60" cy="356.40" r="3.4" fill="none" stroke="#2d4d8e" stroke-width="1.2"/>
<circle cx="405.60" cy="372.00" r="3.4" fill="none" stroke="#2d4d8e" stroke-width="1.2"/>
<line x1="400.10" y1="357.05" x2="411.10" y2="357.05" stroke="#111" stroke-width="1.3" />
<line x1="451.30" y1="395.40" x2="451.30" y2="358.74" stroke="#2d4d8e" stroke-width="1.1" />
<line x1="448.80" y1="358.74" x2="453.80" y2="358.74" stroke="#2d4d8e" stroke-width="1.1" />
<line x1="448.80" y1="395.40" x2="453.80" y2="395.40" stroke="#2d4d8e" stroke-width="1.1" />
<circle cx="451.30" cy="362.90" r="3.4" fill="none" stroke="#2d4d8e" stroke-width="1.2"/>
<circle cx="451.30" cy="368.75" r="3.4" fill="none" stroke="#2d4d8e" stroke-width="1.2"/>
<circle cx="451.30" cy="396.05" r="3.4" fill="none" stroke="#2d4d8e" stroke-width="1.2"/>
<line x1="445.80" y1="376.29" x2="456.80" y2="376.29" stroke="#111" stroke-width="1.3" />
<path d="M335.80 286.80V292.60M366.20 286.80V292.60M335.80 289.70H366.20" stroke="#222" stroke-width="1.25" fill="none"/>
<text x="351.00" y="286.70" font-size="9.5" text-anchor="middle" fill="#111" stroke="#111" stroke-width="0.12" font-weight="bold" textLength="15.5" lengthAdjust="spacingAndGlyphs" >****</text>
<path d="M378.00 329.60V335.40M408.80 329.60V335.40M378.00 332.50H408.80" stroke="#222" stroke-width="1.25" fill="none"/>
<text x="393.40" y="326.30" font-size="9.2" text-anchor="middle" fill="#222" stroke="#222" stroke-width="0.12" >ns</text>
<path d="M428.80 304.60V310.40M459.50 304.60V310.40M428.80 307.50H459.50" stroke="#222" stroke-width="1.25" fill="none"/>
<text x="444.10" y="304.50" font-size="9.5" text-anchor="middle" fill="#111" stroke="#111" stroke-width="0.12" font-weight="bold" textLength="15.5" lengthAdjust="spacingAndGlyphs" >****</text>
<rect x="22.6" y="518.8" width="283" height="275" fill="none" stroke="#111" stroke-width="1.3"/>
<text x="163.80" y="511.80" font-size="11.2" text-anchor="middle" fill="#222" stroke="#222" stroke-width="0.12" textLength="21.8" lengthAdjust="spacingAndGlyphs" >LCH</text>
<rect x="31.78" y="530.88" width="24.84" height="24.84" rx="10.43" fill="#5795e9" fill-opacity="0.42"/>
<rect x="52.04" y="550.54" width="20.52" height="20.52" rx="8.62" fill="#5795e9" fill-opacity="0.42"/>
<rect x="71.10" y="564.80" width="16.20" height="16.20" rx="6.80" fill="#5795e9" fill-opacity="0.42"/>
<rect x="79.20" y="570.20" width="16.20" height="16.20" rx="6.80" fill="#5795e9" fill-opacity="0.42"/>
<rect x="99.60" y="531.10" width="21.60" height="21.60" rx="9.07" fill="#d362e9" fill-opacity="0.42"/>
<rect x="96.50" y="575.70" width="21.60" height="21.60" rx="9.07" fill="#d362e9" fill-opacity="0.42"/>
<rect x="113.45" y="535.85" width="13.50" height="13.50" rx="5.67" fill="#d362e9" fill-opacity="0.42"/>
<rect x="118.65" y="541.05" width="13.50" height="13.50" rx="5.67" fill="#d362e9" fill-opacity="0.42"/>
<rect x="111.25" y="544.25" width="13.50" height="13.50" rx="5.67" fill="#d362e9" fill-opacity="0.42"/>
<rect x="118.65" y="548.85" width="13.50" height="13.50" rx="5.67" fill="#d362e9" fill-opacity="0.42"/>
<rect x="115.15" y="552.25" width="13.50" height="13.50" rx="5.67" fill="#d362e9" fill-opacity="0.42"/>
<rect x="120.35" y="554.05" width="13.50" height="13.50" rx="5.67" fill="#d362e9" fill-opacity="0.42"/>
<rect x="122.95" y="558.35" width="13.50" height="13.50" rx="5.67" fill="#d362e9" fill-opacity="0.42"/>
<rect x="126.45" y="562.65" width="13.50" height="13.50" rx="5.67" fill="#d362e9" fill-opacity="0.42"/>
<rect x="130.75" y="566.15" width="13.50" height="13.50" rx="5.67" fill="#d362e9" fill-opacity="0.42"/>
<rect x="134.25" y="569.55" width="13.50" height="13.50" rx="5.67" fill="#d362e9" fill-opacity="0.42"/>
<rect x="129.85" y="572.15" width="13.50" height="13.50" rx="5.67" fill="#d362e9" fill-opacity="0.42"/>
<rect x="108.25" y="541.25" width="13.50" height="13.50" rx="5.67" fill="#d362e9" fill-opacity="0.42"/>
<rect x="106.25" y="549.25" width="13.50" height="13.50" rx="5.67" fill="#d362e9" fill-opacity="0.42"/>
<rect x="112.25" y="558.25" width="13.50" height="13.50" rx="5.67" fill="#d362e9" fill-opacity="0.42"/>
<rect x="117.25" y="563.25" width="13.50" height="13.50" rx="5.67" fill="#d362e9" fill-opacity="0.42"/>
<rect x="136.75" y="541.05" width="13.50" height="13.50" rx="5.67" fill="#d362e9" fill-opacity="0.42"/>
<rect x="148.95" y="541.05" width="13.50" height="13.50" rx="5.67" fill="#d362e9" fill-opacity="0.42"/>
<rect x="142.85" y="546.25" width="13.50" height="13.50" rx="5.67" fill="#d362e9" fill-opacity="0.42"/>
<rect x="148.95" y="550.55" width="13.50" height="13.50" rx="5.67" fill="#d362e9" fill-opacity="0.42"/>
<rect x="138.55" y="552.25" width="13.50" height="13.50" rx="5.67" fill="#d362e9" fill-opacity="0.42"/>
<rect x="144.55" y="555.75" width="13.50" height="13.50" rx="5.67" fill="#d362e9" fill-opacity="0.42"/>
<rect x="141.15" y="559.25" width="13.50" height="13.50" rx="5.67" fill="#d362e9" fill-opacity="0.42"/>
<rect x="136.75" y="563.55" width="13.50" height="13.50" rx="5.67" fill="#d362e9" fill-opacity="0.42"/>
<rect x="151.25" y="545.25" width="13.50" height="13.50" rx="5.67" fill="#d362e9" fill-opacity="0.42"/>
<rect x="132.25" y="577.25" width="13.50" height="13.50" rx="5.67" fill="#d362e9" fill-opacity="0.42"/>
<rect x="135.25" y="583.25" width="13.50" height="13.50" rx="5.67" fill="#d362e9" fill-opacity="0.42"/>
<rect x="134.45" y="593.25" width="13.50" height="13.50" rx="5.67" fill="#d362e9" fill-opacity="0.42"/>
<rect x="127.25" y="586.25" width="13.50" height="13.50" rx="5.67" fill="#d362e9" fill-opacity="0.42"/>
<rect x="118.25" y="582.25" width="13.50" height="13.50" rx="5.67" fill="#d362e9" fill-opacity="0.42"/>
<rect x="97.84" y="626.64" width="20.52" height="20.52" rx="8.62" fill="#f07c7c" fill-opacity="0.42"/>
<rect x="112.90" y="626.40" width="16.20" height="16.20" rx="6.80" fill="#f07c7c" fill-opacity="0.42"/>
<rect x="120.90" y="624.90" width="16.20" height="16.20" rx="6.80" fill="#f07c7c" fill-opacity="0.42"/>
<rect x="128.80" y="624.40" width="16.20" height="16.20" rx="6.80" fill="#f07c7c" fill-opacity="0.42"/>
<rect x="139.40" y="620.60" width="16.20" height="16.20" rx="6.80" fill="#f07c7c" fill-opacity="0.42"/>
<rect x="144.90" y="628.90" width="16.20" height="16.20" rx="6.80" fill="#f07c7c" fill-opacity="0.42"/>
<rect x="149.25" y="635.70" width="16.20" height="16.20" rx="6.80" fill="#f07c7c" fill-opacity="0.42"/>
<rect x="153.60" y="642.50" width="16.20" height="16.20" rx="6.80" fill="#f07c7c" fill-opacity="0.42"/>
<rect x="135.44" y="600.44" width="15.12" height="15.12" rx="6.35" fill="#f07c7c" fill-opacity="0.42"/>
<rect x="137.64" y="607.04" width="15.12" height="15.12" rx="6.35" fill="#f07c7c" fill-opacity="0.42"/>
<rect x="138.79" y="614.09" width="15.12" height="15.12" rx="6.35" fill="#f07c7c" fill-opacity="0.42"/>
<rect x="139.94" y="621.14" width="15.12" height="15.12" rx="6.35" fill="#f07c7c" fill-opacity="0.42"/>
<rect x="206.96" y="598.76" width="22.68" height="22.68" rx="9.53" fill="#85e9b2" fill-opacity="0.6"/>
<rect x="199.44" y="604.14" width="20.52" height="20.52" rx="8.62" fill="#85e9b2" fill-opacity="0.6"/>
<rect x="188.86" y="609.96" width="22.68" height="22.68" rx="9.53" fill="#85e9b2" fill-opacity="0.6"/>
<rect x="183.76" y="604.06" width="17.28" height="17.28" rx="7.26" fill="#85e9b2" fill-opacity="0.6"/>
<rect x="189.14" y="597.34" width="15.12" height="15.12" rx="6.35" fill="#85e9b2" fill-opacity="0.6"/>
<rect x="183.40" y="616.70" width="16.20" height="16.20" rx="6.80" fill="#85e9b2" fill-opacity="0.6"/>
<rect x="163.32" y="619.12" width="18.36" height="18.36" rx="7.71" fill="#85e9b2" fill-opacity="0.6"/>
<rect x="176.86" y="626.56" width="17.28" height="17.28" rx="7.26" fill="#85e9b2" fill-opacity="0.6"/>
<rect x="201.24" y="629.34" width="15.12" height="15.12" rx="6.35" fill="#85e9b2" fill-opacity="0.6"/>
<rect x="192.64" y="633.64" width="15.12" height="15.12" rx="6.35" fill="#85e9b2" fill-opacity="0.6"/>
<rect x="183.94" y="638.84" width="15.12" height="15.12" rx="6.35" fill="#85e9b2" fill-opacity="0.6"/>
<rect x="199.90" y="642.60" width="16.20" height="16.20" rx="6.80" fill="#85e9b2" fill-opacity="0.6"/>
<rect x="178.98" y="592.98" width="14.04" height="14.04" rx="5.90" fill="#85e9b2" fill-opacity="0.6"/>
<rect x="192.98" y="589.98" width="14.04" height="14.04" rx="5.90" fill="#85e9b2" fill-opacity="0.6"/>
<rect x="207.44" y="592.44" width="15.12" height="15.12" rx="6.35" fill="#85e9b2" fill-opacity="0.6"/>
<rect x="218.44" y="596.44" width="15.12" height="15.12" rx="6.35" fill="#85e9b2" fill-opacity="0.6"/>
<rect x="219.44" y="609.44" width="15.12" height="15.12" rx="6.35" fill="#85e9b2" fill-opacity="0.6"/>
<rect x="207.44" y="620.44" width="15.12" height="15.12" rx="6.35" fill="#85e9b2" fill-opacity="0.6"/>
<rect x="206.44" y="636.44" width="15.12" height="15.12" rx="6.35" fill="#85e9b2" fill-opacity="0.6"/>
<rect x="196.44" y="644.44" width="15.12" height="15.12" rx="6.35" fill="#85e9b2" fill-opacity="0.6"/>
<rect x="185.44" y="642.44" width="15.12" height="15.12" rx="6.35" fill="#85e9b2" fill-opacity="0.6"/>
<rect x="172.44" y="637.44" width="15.12" height="15.12" rx="6.35" fill="#85e9b2" fill-opacity="0.6"/>
<rect x="157.44" y="622.44" width="15.12" height="15.12" rx="6.35" fill="#85e9b2" fill-opacity="0.6"/>
<rect x="164.44" y="610.44" width="15.12" height="15.12" rx="6.35" fill="#85e9b2" fill-opacity="0.6"/>
<rect x="174.44" y="603.44" width="15.12" height="15.12" rx="6.35" fill="#85e9b2" fill-opacity="0.6"/>
<rect x="164.44" y="634.44" width="15.12" height="15.12" rx="6.35" fill="#85e9b2" fill-opacity="0.6"/>
<rect x="173.44" y="616.44" width="15.12" height="15.12" rx="6.35" fill="#85e9b2" fill-opacity="0.6"/>
<rect x="153.90" y="653.90" width="16.20" height="16.20" rx="6.80" fill="#daf074" fill-opacity="0.68"/>
<rect x="150.90" y="660.40" width="16.20" height="16.20" rx="6.80" fill="#daf074" fill-opacity="0.68"/>
<rect x="147.90" y="666.90" width="16.20" height="16.20" rx="6.80" fill="#daf074" fill-opacity="0.68"/>
<rect x="145.40" y="673.40" width="16.20" height="16.20" rx="6.80" fill="#daf074" fill-opacity="0.68"/>
<rect x="142.90" y="679.90" width="16.20" height="16.20" rx="6.80" fill="#daf074" fill-opacity="0.68"/>
<rect x="137.40" y="684.90" width="16.20" height="16.20" rx="6.80" fill="#daf074" fill-opacity="0.68"/>
<rect x="131.90" y="689.90" width="16.20" height="16.20" rx="6.80" fill="#daf074" fill-opacity="0.68"/>
<rect x="123.90" y="695.40" width="16.20" height="16.20" rx="6.80" fill="#daf074" fill-opacity="0.68"/>
<rect x="117.90" y="700.90" width="16.20" height="16.20" rx="6.80" fill="#daf074" fill-opacity="0.68"/>
<rect x="108.90" y="707.90" width="16.20" height="16.20" rx="6.80" fill="#daf074" fill-opacity="0.68"/>
<rect x="99.90" y="712.90" width="16.20" height="16.20" rx="6.80" fill="#daf074" fill-opacity="0.68"/>
<rect x="92.90" y="717.90" width="16.20" height="16.20" rx="6.80" fill="#daf074" fill-opacity="0.68"/>
<rect x="96.90" y="728.90" width="16.20" height="16.20" rx="6.80" fill="#daf074" fill-opacity="0.68"/>
<rect x="138.80" y="684.90" width="16.20" height="16.20" rx="6.80" fill="#daf074" fill-opacity="0.68"/>
<rect x="141.70" y="690.90" width="16.20" height="16.20" rx="6.80" fill="#daf074" fill-opacity="0.68"/>
<rect x="144.60" y="696.90" width="16.20" height="16.20" rx="6.80" fill="#daf074" fill-opacity="0.68"/>
<rect x="149.20" y="701.10" width="16.20" height="16.20" rx="6.80" fill="#daf074" fill-opacity="0.68"/>
<rect x="141.90" y="657.90" width="16.20" height="16.20" rx="6.80" fill="#daf074" fill-opacity="0.68"/>
<rect x="149.36" y="671.36" width="17.28" height="17.28" rx="7.26" fill="#daf074" fill-opacity="0.68"/>
<rect x="136.90" y="674.90" width="16.20" height="16.20" rx="6.80" fill="#daf074" fill-opacity="0.68"/>
<rect x="153.90" y="687.90" width="16.20" height="16.20" rx="6.80" fill="#daf074" fill-opacity="0.68"/>
<rect x="133.44" y="695.44" width="15.12" height="15.12" rx="6.35" fill="#daf074" fill-opacity="0.68"/>
<rect x="128.98" y="682.98" width="14.04" height="14.04" rx="5.90" fill="#daf074" fill-opacity="0.68"/>
<rect x="118.64" y="701.64" width="15.12" height="15.12" rx="6.35" fill="#daf074" fill-opacity="0.68"/>
<rect x="119.74" y="710.94" width="15.12" height="15.12" rx="6.35" fill="#daf074" fill-opacity="0.68"/>
<rect x="149.74" y="703.44" width="15.12" height="15.12" rx="6.35" fill="#85e9b2" fill-opacity="0.6"/>
<rect x="152.39" y="710.64" width="15.12" height="15.12" rx="6.35" fill="#85e9b2" fill-opacity="0.6"/>
<rect x="155.04" y="717.84" width="15.12" height="15.12" rx="6.35" fill="#85e9b2" fill-opacity="0.6"/>
<rect x="146.44" y="724.74" width="15.12" height="15.12" rx="6.35" fill="#85e9b2" fill-opacity="0.6"/>
<rect x="149.24" y="730.54" width="15.12" height="15.12" rx="6.35" fill="#85e9b2" fill-opacity="0.6"/>
<rect x="152.04" y="736.34" width="15.12" height="15.12" rx="6.35" fill="#85e9b2" fill-opacity="0.6"/>
<rect x="149.74" y="746.64" width="15.12" height="15.12" rx="6.35" fill="#85e9b2" fill-opacity="0.6"/>
<rect x="153.59" y="752.04" width="15.12" height="15.12" rx="6.35" fill="#85e9b2" fill-opacity="0.6"/>
<rect x="157.44" y="757.44" width="15.12" height="15.12" rx="6.35" fill="#85e9b2" fill-opacity="0.6"/>
<rect x="156.81" y="763.47" width="15.12" height="15.12" rx="6.35" fill="#85e9b2" fill-opacity="0.6"/>
<rect x="156.17" y="769.51" width="15.12" height="15.12" rx="6.35" fill="#85e9b2" fill-opacity="0.6"/>
<rect x="155.54" y="775.54" width="15.12" height="15.12" rx="6.35" fill="#85e9b2" fill-opacity="0.6"/>
<rect x="152.04" y="736.34" width="15.12" height="15.12" rx="6.35" fill="#85e9b2" fill-opacity="0.6"/>
<rect x="145.24" y="739.39" width="15.12" height="15.12" rx="6.35" fill="#85e9b2" fill-opacity="0.6"/>
<rect x="138.44" y="742.44" width="15.12" height="15.12" rx="6.35" fill="#85e9b2" fill-opacity="0.6"/>
<rect x="159.36" y="651.36" width="17.28" height="17.28" rx="7.26" fill="#f07c7c" fill-opacity="0.42"/>
<rect x="167.36" y="658.36" width="17.28" height="17.28" rx="7.26" fill="#f07c7c" fill-opacity="0.42"/>
<rect x="173.36" y="661.36" width="17.28" height="17.28" rx="7.26" fill="#f07c7c" fill-opacity="0.42"/>
<rect x="179.36" y="664.36" width="17.28" height="17.28" rx="7.26" fill="#f07c7c" fill-opacity="0.42"/>
<rect x="186.86" y="666.11" width="17.28" height="17.28" rx="7.26" fill="#f07c7c" fill-opacity="0.42"/>
<rect x="194.36" y="667.86" width="17.28" height="17.28" rx="7.26" fill="#f07c7c" fill-opacity="0.42"/>
<rect x="204.06" y="671.76" width="17.28" height="17.28" rx="7.26" fill="#f07c7c" fill-opacity="0.42"/>
<rect x="213.36" y="665.36" width="17.28" height="17.28" rx="7.26" fill="#f07c7c" fill-opacity="0.42"/>
<rect x="220.01" y="662.76" width="17.28" height="17.28" rx="7.26" fill="#f07c7c" fill-opacity="0.42"/>
<rect x="226.66" y="660.16" width="17.28" height="17.28" rx="7.26" fill="#f07c7c" fill-opacity="0.42"/>
<rect x="204.60" y="672.30" width="16.20" height="16.20" rx="6.80" fill="#f07c7c" fill-opacity="0.42"/>
<rect x="210.40" y="682.40" width="16.20" height="16.20" rx="6.80" fill="#f07c7c" fill-opacity="0.42"/>
<rect x="215.20" y="686.60" width="16.20" height="16.20" rx="6.80" fill="#f07c7c" fill-opacity="0.42"/>
<rect x="220.00" y="690.80" width="16.20" height="16.20" rx="6.80" fill="#f07c7c" fill-opacity="0.42"/>
<rect x="178.90" y="670.90" width="16.20" height="16.20" rx="6.80" fill="#f07c7c" fill-opacity="0.42"/>
<rect x="181.15" y="678.30" width="16.20" height="16.20" rx="6.80" fill="#f07c7c" fill-opacity="0.42"/>
<rect x="183.40" y="685.70" width="16.20" height="16.20" rx="6.80" fill="#f07c7c" fill-opacity="0.42"/>
<rect x="186.30" y="689.60" width="16.20" height="16.20" rx="6.80" fill="#f07c7c" fill-opacity="0.42"/>
<rect x="218.38" y="689.18" width="19.44" height="19.44" rx="8.16" fill="#f07c7c" fill-opacity="0.42"/>
<rect x="240.40" y="698.00" width="16.20" height="16.20" rx="6.80" fill="#5795e9" fill-opacity="0.42"/>
<rect x="246.40" y="700.40" width="16.20" height="16.20" rx="6.80" fill="#5795e9" fill-opacity="0.42"/>
<rect x="260.62" y="700.22" width="23.76" height="23.76" rx="9.98" fill="#5795e9" fill-opacity="0.42"/>
<rect x="274.46" y="704.36" width="22.68" height="22.68" rx="9.53" fill="#5795e9" fill-opacity="0.42"/>
<path d="M44.2 543.3L62.3 560.8L79.2 572.9L87.3 578.3L107.3 586.5L120.4 588.8L131.2 591.2L141.2 600.0L145.2 614.6L147.9 629.4L161.7 650.6" fill="none" stroke="#999" stroke-width="0.45"/>
<path d="M110.4 541.9L118.0 556.5L128.0 562.0L136.5 568.0L141.9 575.8L136.0 586.0L141.2 600.0" fill="none" stroke="#999" stroke-width="0.45"/>
<path d="M126.5 541.9L126.5 549.6L128.0 562.0" fill="none" stroke="#999" stroke-width="0.45"/>
<path d="M145.8 547.3L145.8 557.3L150.4 567.3L141.9 575.8" fill="none" stroke="#999" stroke-width="0.45"/>
<path d="M156.5 548.8L154.2 562.0L150.4 567.3" fill="none" stroke="#999" stroke-width="0.45"/>
<path d="M108.9 636.2L129.0 633.0L136.3 632.1L147.9 629.4" fill="none" stroke="#999" stroke-width="0.45"/>
<path d="M161.7 650.6L172.3 662.1L180.0 667.9L191.5 672.7L201.2 676.5L211.7 680.4L235.3 668.8" fill="none" stroke="#999" stroke-width="0.45"/>
<path d="M211.7 680.4L228.1 698.9L248.5 706.1L254.5 708.5L272.5 712.1L285.8 715.7" fill="none" stroke="#999" stroke-width="0.45"/>
<path d="M186.7 679.4L193.5 697.7" fill="none" stroke="#999" stroke-width="0.45"/>
<path d="M163.1 666.5L153.4 688.5L146.9 693.0L131.9 703.5L126.2 709.2L112.0 718.0L106.5 727.2L104.0 737.0" fill="none" stroke="#999" stroke-width="0.45"/>
<path d="M146.9 693.0L157.3 709.2L162.6 725.4L153.9 732.3L159.6 743.9L157.3 754.2L165.0 765.0L163.1 783.1" fill="none" stroke="#999" stroke-width="0.45"/>
<path d="M159.6 743.9L146.0 750.0" fill="none" stroke="#999" stroke-width="0.45"/>
<path d="M126.2 709.2L127.3 718.5" fill="none" stroke="#999" stroke-width="0.45"/>
<path d="M208.8 637.1L200.2 641.5L191.5 646.7" fill="none" stroke="#999" stroke-width="0.45"/>
<path d="M185.8 635.2L207.9 651.2" fill="none" stroke="#999" stroke-width="0.45"/>
<path d="M44.20 543.30L44.20 537.30A6 6 0 0 1 50.15 544.05Z" fill="#ffa800"/>
<path d="M44.20 543.30L50.15 544.05A6 6 0 0 1 48.57 547.41Z" fill="#00e8f0"/>
<path d="M44.20 543.30L48.57 547.41A6 6 0 1 1 42.35 537.59Z" fill="#0050f0"/>
<path d="M44.20 543.30L42.35 537.59A6 6 0 0 1 44.20 537.30Z" fill="#000090"/>
<circle cx="44.20" cy="543.30" r="6" fill="none" stroke="#111" stroke-width="0.8"/>
<path d="M62.30 560.80L62.30 556.30A4.5 4.5 0 0 1 66.58 562.19Z" fill="#f00000"/>
<path d="M62.30 560.80L66.58 562.19A4.5 4.5 0 0 1 62.30 565.30Z" fill="#ffa800"/>
<path d="M62.30 560.80L62.30 565.30A4.5 4.5 0 0 1 57.80 560.80Z" fill="#00e8f0"/>
<path d="M62.30 560.80L57.80 560.80A4.5 4.5 0 0 1 62.30 556.30Z" fill="#0050f0"/>
<circle cx="62.30" cy="560.80" r="4.5" fill="none" stroke="#111" stroke-width="0.8"/>
<path d="M79.20 572.90L79.20 570.40A2.5 2.5 0 0 1 79.20 575.40Z" fill="#ffa800"/>
<path d="M79.20 572.90L79.20 575.40A2.5 2.5 0 0 1 79.20 570.40Z" fill="#00e8f0"/>
<circle cx="79.20" cy="572.90" r="2.5" fill="none" stroke="#111" stroke-width="0.8"/>
<path d="M87.30 578.30L87.30 575.80A2.5 2.5 0 0 1 87.30 580.80Z" fill="#00e8f0"/>
<path d="M87.30 578.30L87.30 580.80A2.5 2.5 0 0 1 87.30 575.80Z" fill="#0050f0"/>
<circle cx="87.30" cy="578.30" r="2.5" fill="none" stroke="#111" stroke-width="0.8"/>
<path d="M110.40 541.90L110.40 536.90A5 5 0 1 1 105.64 540.35Z" fill="#f00000"/>
<path d="M110.40 541.90L105.64 540.35A5 5 0 0 1 110.40 536.90Z" fill="#0050f0"/>
<circle cx="110.40" cy="541.90" r="5" fill="none" stroke="#111" stroke-width="0.8"/>
<circle cx="145.80" cy="547.30" r="2" fill="#000090" stroke="#111" stroke-width="0.8"/>
<path d="M107.30 586.50L107.30 581.00A5.5 5.5 0 0 1 112.80 586.50Z" fill="#f00000"/>
<path d="M107.30 586.50L112.80 586.50A5.5 5.5 0 1 1 107.30 581.00Z" fill="#0050f0"/>
<circle cx="107.30" cy="586.50" r="5.5" fill="none" stroke="#111" stroke-width="0.8"/>
<circle cx="120.40" cy="588.80" r="2.5" fill="#000090" stroke="#111" stroke-width="0.8"/>
<circle cx="131.20" cy="591.20" r="2" fill="#000090" stroke="#111" stroke-width="0.8"/>
<path d="M108.10 636.90L108.10 631.40A5.5 5.5 0 0 1 109.80 631.67Z" fill="#ffa800"/>
<path d="M108.10 636.90L109.80 631.67A5.5 5.5 0 0 1 111.33 641.35Z" fill="#00e8f0"/>
<path d="M108.10 636.90L111.33 641.35A5.5 5.5 0 1 1 108.10 631.40Z" fill="#0050f0"/>
<circle cx="108.10" cy="636.90" r="5.5" fill="none" stroke="#111" stroke-width="0.8"/>
<path d="M128.90 633.70L128.90 630.20A3.5 3.5 0 0 1 132.23 632.62Z" fill="#00e8f0"/>
<path d="M128.90 633.70L132.23 632.62A3.5 3.5 0 1 1 128.90 630.20Z" fill="#0050f0"/>
<circle cx="128.90" cy="633.70" r="3.5" fill="none" stroke="#111" stroke-width="0.8"/>
<path d="M136.90 632.50L136.90 629.50A3 3 0 0 1 139.75 633.43Z" fill="#f00000"/>
<path d="M136.90 632.50L139.75 633.43A3 3 0 0 1 135.14 634.93Z" fill="#00e8f0"/>
<path d="M136.90 632.50L135.14 634.93A3 3 0 0 1 136.90 629.50Z" fill="#0050f0"/>
<circle cx="136.90" cy="632.50" r="3" fill="none" stroke="#111" stroke-width="0.8"/>
<circle cx="147.90" cy="629.40" r="3.5" fill="#0050f0" stroke="#111" stroke-width="0.8"/>
<circle cx="153.30" cy="637.50" r="2" fill="#c00000" stroke="#111" stroke-width="0.8"/>
<path d="M218.30 610.10L218.30 602.30A7.8 7.8 0 0 1 219.76 602.44Z" fill="#f00000"/>
<path d="M218.30 610.10L219.76 602.44A7.8 7.8 0 0 1 225.72 607.69Z" fill="#ffa800"/>
<path d="M218.30 610.10L225.72 607.69A7.8 7.8 0 1 1 218.30 602.30Z" fill="#0050f0"/>
<circle cx="218.30" cy="610.10" r="7.8" fill="none" stroke="#111" stroke-width="0.8"/>
<path d="M209.70 614.40L209.70 607.90A6.5 6.5 0 0 1 213.52 609.14Z" fill="#f00000"/>
<path d="M209.70 614.40L213.52 609.14A6.5 6.5 0 0 1 215.58 611.63Z" fill="#ffa800"/>
<path d="M209.70 614.40L215.58 611.63A6.5 6.5 0 0 1 215.88 616.41Z" fill="#00e8f0"/>
<path d="M209.70 614.40L215.88 616.41A6.5 6.5 0 1 1 209.70 607.90Z" fill="#0050f0"/>
<circle cx="209.70" cy="614.40" r="6.5" fill="none" stroke="#111" stroke-width="0.8"/>
<path d="M200.20 621.30L200.20 613.10A8.2 8.2 0 0 1 205.81 615.32Z" fill="#f00000"/>
<path d="M200.20 621.30L205.81 615.32A8.2 8.2 0 1 1 200.20 613.10Z" fill="#0050f0"/>
<circle cx="200.20" cy="621.30" r="8.2" fill="none" stroke="#111" stroke-width="0.8"/>
<path d="M192.40 612.70L192.40 607.20A5.5 5.5 0 0 1 197.90 612.70Z" fill="#f00000"/>
<path d="M192.40 612.70L197.90 612.70A5.5 5.5 0 1 1 192.40 607.20Z" fill="#0050f0"/>
<circle cx="192.40" cy="612.70" r="5.5" fill="none" stroke="#111" stroke-width="0.8"/>
<path d="M196.70 604.90L196.70 600.60A4.3 4.3 0 0 1 200.79 603.57Z" fill="#f00000"/>
<path d="M196.70 604.90L200.79 603.57A4.3 4.3 0 1 1 196.70 600.60Z" fill="#0050f0"/>
<circle cx="196.70" cy="604.90" r="4.3" fill="none" stroke="#111" stroke-width="0.8"/>
<path d="M191.50 624.80L191.50 620.30A4.5 4.5 0 0 1 195.78 623.41Z" fill="#f00000"/>
<path d="M191.50 624.80L195.78 623.41A4.5 4.5 0 1 1 191.50 620.30Z" fill="#0050f0"/>
<circle cx="191.50" cy="624.80" r="4.5" fill="none" stroke="#111" stroke-width="0.8"/>
<path d="M172.50 628.30L172.50 622.30A6 6 0 0 1 178.50 628.30Z" fill="#f00000"/>
<path d="M172.50 628.30L178.50 628.30A6 6 0 1 1 172.50 622.30Z" fill="#0050f0"/>
<circle cx="172.50" cy="628.30" r="6" fill="none" stroke="#111" stroke-width="0.8"/>
<path d="M185.50 635.20L185.50 629.70A5.5 5.5 0 1 1 180.27 636.90Z" fill="#f00000"/>
<path d="M185.50 635.20L180.27 636.90A5.5 5.5 0 0 1 185.50 629.70Z" fill="#0050f0"/>
<circle cx="185.50" cy="635.20" r="5.5" fill="none" stroke="#111" stroke-width="0.8"/>
<path d="M172.10 636.00L172.10 632.50A3.5 3.5 0 0 1 174.16 638.83Z" fill="#f00000"/>
<path d="M172.10 636.00L174.16 638.83A3.5 3.5 0 1 1 172.10 632.50Z" fill="#0050f0"/>
<circle cx="172.10" cy="636.00" r="3.5" fill="none" stroke="#111" stroke-width="0.8"/>
<path d="M172.50 642.10L172.50 638.60A3.5 3.5 0 1 1 170.44 644.93Z" fill="#f00000"/>
<path d="M172.50 642.10L170.44 644.93A3.5 3.5 0 0 1 172.50 638.60Z" fill="#0050f0"/>
<circle cx="172.50" cy="642.10" r="3.5" fill="none" stroke="#111" stroke-width="0.8"/>
<path d="M181.10 644.70L181.10 640.20A4.5 4.5 0 1 1 176.82 643.31Z" fill="#f00000"/>
<path d="M181.10 644.70L176.82 643.31A4.5 4.5 0 0 1 178.45 641.06Z" fill="#ffa800"/>
<path d="M181.10 644.70L178.45 641.06A4.5 4.5 0 0 1 181.10 640.20Z" fill="#0050f0"/>
<circle cx="181.10" cy="644.70" r="4.5" fill="none" stroke="#111" stroke-width="0.8"/>
<path d="M175.10 649.00L175.10 645.50A3.5 3.5 0 1 1 173.04 651.83Z" fill="#f00000"/>
<path d="M175.10 649.00L173.04 651.83A3.5 3.5 0 0 1 175.10 645.50Z" fill="#0050f0"/>
<circle cx="175.10" cy="649.00" r="3.5" fill="none" stroke="#111" stroke-width="0.8"/>
<path d="M162.10 649.90L162.10 644.90A5 5 0 0 1 166.86 648.35Z" fill="#f00000"/>
<path d="M162.10 649.90L166.86 648.35A5 5 0 0 1 166.86 651.45Z" fill="#00e8f0"/>
<path d="M162.10 649.90L166.86 651.45A5 5 0 1 1 162.10 644.90Z" fill="#0050f0"/>
<circle cx="162.10" cy="649.90" r="5" fill="none" stroke="#111" stroke-width="0.8"/>
<path d="M167.30 657.70L167.30 653.70A4 4 0 0 1 167.30 661.70Z" fill="#f00000"/>
<path d="M167.30 657.70L167.30 661.70A4 4 0 0 1 167.30 653.70Z" fill="#0050f0"/>
<circle cx="167.30" cy="657.70" r="4" fill="none" stroke="#111" stroke-width="0.8"/>
<circle cx="163.70" cy="666.00" r="4" fill="#f00000" stroke="#111" stroke-width="0.8"/>
<circle cx="159.80" cy="672.70" r="3.5" fill="#f00000" stroke="#111" stroke-width="0.8"/>
<circle cx="151.20" cy="676.50" r="4" fill="#f00000" stroke="#111" stroke-width="0.8"/>
<circle cx="172.30" cy="662.10" r="3" fill="#0050f0" stroke="#111" stroke-width="0.8"/>
<path d="M180.00 667.90L180.00 661.90A6 6 0 0 1 183.53 663.05Z" fill="#ffa800"/>
<path d="M180.00 667.90L183.53 663.05A6 6 0 1 1 180.00 661.90Z" fill="#0050f0"/>
<circle cx="180.00" cy="667.90" r="6" fill="none" stroke="#111" stroke-width="0.8"/>
<path d="M191.50 672.70L191.50 666.20A6.5 6.5 0 0 1 196.76 668.88Z" fill="#f00000"/>
<path d="M191.50 672.70L196.76 668.88A6.5 6.5 0 1 1 191.50 666.20Z" fill="#0050f0"/>
<circle cx="191.50" cy="672.70" r="6.5" fill="none" stroke="#111" stroke-width="0.8"/>
<circle cx="186.70" cy="679.40" r="5" fill="#0050f0" stroke="#111" stroke-width="0.8"/>
<path d="M201.20 676.50L201.20 673.00A3.5 3.5 0 0 1 201.20 680.00Z" fill="#f00000"/>
<path d="M201.20 676.50L201.20 680.00A3.5 3.5 0 0 1 201.20 673.00Z" fill="#0050f0"/>
<circle cx="201.20" cy="676.50" r="3.5" fill="none" stroke="#111" stroke-width="0.8"/>
<circle cx="211.70" cy="680.40" r="3" fill="#0050f0" stroke="#111" stroke-width="0.8"/>
<circle cx="194.40" cy="697.70" r="2.5" fill="#0050f0" stroke="#111" stroke-width="0.8"/>
<circle cx="191.50" cy="693.80" r="2" fill="#000090" stroke="#111" stroke-width="0.8"/>
<circle cx="147.70" cy="629.00" r="3.5" fill="#0050f0" stroke="#111" stroke-width="0.8"/>
<circle cx="208.80" cy="636.90" r="2" fill="#000090" stroke="#111" stroke-width="0.8"/>
<circle cx="200.20" cy="641.20" r="2" fill="#c00000" stroke="#111" stroke-width="0.8"/>
<path d="M191.50 646.40L191.50 643.90A2.5 2.5 0 0 1 191.50 648.90Z" fill="#f00000"/>
<path d="M191.50 646.40L191.50 648.90A2.5 2.5 0 0 1 191.50 643.90Z" fill="#000090"/>
<circle cx="191.50" cy="646.40" r="2.5" fill="none" stroke="#111" stroke-width="0.8"/>
<circle cx="208.00" cy="650.70" r="2.5" fill="#c00000" stroke="#111" stroke-width="0.8"/>
<circle cx="235.30" cy="668.80" r="2" fill="#000090" stroke="#111" stroke-width="0.8"/>
<path d="M228.10 698.90L228.10 695.40A3.5 3.5 0 0 1 231.43 697.82Z" fill="#f00000"/>
<path d="M228.10 698.90L231.43 697.82A3.5 3.5 0 1 1 228.10 695.40Z" fill="#0050f0"/>
<circle cx="228.10" cy="698.90" r="3.5" fill="none" stroke="#111" stroke-width="0.8"/>
<circle cx="248.50" cy="706.10" r="2" fill="#000090" stroke="#111" stroke-width="0.8"/>
<circle cx="254.50" cy="708.50" r="2" fill="#c00000" stroke="#111" stroke-width="0.8"/>
<path d="M272.50 712.10L272.50 705.10A7 7 0 0 1 279.38 710.79Z" fill="#f00000"/>
<path d="M272.50 712.10L279.38 710.79A7 7 0 0 1 271.62 719.04Z" fill="#ffa800"/>
<path d="M272.50 712.10L271.62 719.04A7 7 0 0 1 272.50 705.10Z" fill="#00e8f0"/>
<circle cx="272.50" cy="712.10" r="7" fill="none" stroke="#111" stroke-width="0.8"/>
<path d="M285.30 715.00L285.30 709.00A6 6 0 0 1 288.83 710.15Z" fill="#f00000"/>
<path d="M285.30 715.00L288.83 710.15A6 6 0 1 1 285.30 709.00Z" fill="#ffa800"/>
<circle cx="285.30" cy="715.00" r="6" fill="none" stroke="#111" stroke-width="0.8"/>
<circle cx="153.40" cy="688.50" r="2" fill="#c00000" stroke="#111" stroke-width="0.8"/>
<circle cx="146.90" cy="693.00" r="2" fill="#c00000" stroke="#111" stroke-width="0.8"/>
<circle cx="131.90" cy="703.50" r="2.5" fill="#f00000" stroke="#111" stroke-width="0.8"/>
<circle cx="126.20" cy="709.20" r="2.5" fill="#f00000" stroke="#111" stroke-width="0.8"/>
<circle cx="127.30" cy="718.50" r="2" fill="#c00000" stroke="#111" stroke-width="0.8"/>
<circle cx="157.30" cy="709.20" r="3.5" fill="#f00000" stroke="#111" stroke-width="0.8"/>
<circle cx="152.70" cy="705.80" r="2" fill="#c00000" stroke="#111" stroke-width="0.8"/>
<path d="M100.30 725.90L100.30 722.90A3 3 0 0 1 102.06 728.33Z" fill="#00e8f0"/>
<path d="M100.30 725.90L102.06 728.33A3 3 0 1 1 100.30 722.90Z" fill="#0050f0"/>
<circle cx="100.30" cy="725.90" r="3" fill="none" stroke="#111" stroke-width="0.8"/>
<path d="M106.50 727.20L106.50 724.70A2.5 2.5 0 1 1 105.03 729.22Z" fill="#00e8f0"/>
<path d="M106.50 727.20L105.03 729.22A2.5 2.5 0 0 1 106.50 724.70Z" fill="#0050f0"/>
<circle cx="106.50" cy="727.20" r="2.5" fill="none" stroke="#111" stroke-width="0.8"/>
<circle cx="162.60" cy="725.40" r="2" fill="#c00000" stroke="#111" stroke-width="0.8"/>
<circle cx="153.90" cy="732.30" r="2.5" fill="#0050f0" stroke="#111" stroke-width="0.8"/>
<circle cx="159.60" cy="743.90" r="2" fill="#000090" stroke="#111" stroke-width="0.8"/>
<path d="M157.30 754.20L157.30 750.70A3.5 3.5 0 0 1 160.63 753.12Z" fill="#ffa800"/>
<path d="M157.30 754.20L160.63 753.12A3.5 3.5 0 0 1 159.36 757.03Z" fill="#00e8f0"/>
<path d="M157.30 754.20L159.36 757.03A3.5 3.5 0 1 1 157.30 750.70Z" fill="#0050f0"/>
<circle cx="157.30" cy="754.20" r="3.5" fill="none" stroke="#111" stroke-width="0.8"/>
<path d="M163.10 783.10L163.10 781.10A2 2 0 0 1 163.10 785.10Z" fill="#ffa800"/>
<path d="M163.10 783.10L163.10 785.10A2 2 0 0 1 163.10 781.10Z" fill="#000090"/>
<circle cx="163.10" cy="783.10" r="2" fill="none" stroke="#111" stroke-width="0.8"/>
<rect x="228.2" y="528.10" width="7" height="6.4" fill="#000090" stroke="#222" stroke-width="0.8"/>
<text x="244.60" y="535.00" font-size="10.2" text-anchor="start" fill="#1a1a1a" stroke="#1a1a1a" stroke-width="0.12" textLength="18.3" lengthAdjust="spacingAndGlyphs" >CD3</text>
<rect x="228.2" y="540.08" width="7" height="6.4" fill="#0050f0" stroke="#222" stroke-width="0.8"/>
<text x="244.60" y="546.98" font-size="10.2" text-anchor="start" fill="#1a1a1a" stroke="#1a1a1a" stroke-width="0.12" textLength="37.5" lengthAdjust="spacingAndGlyphs" >CD3 CD4</text>
<rect x="228.2" y="552.06" width="7" height="6.4" fill="#00e8f0" stroke="#222" stroke-width="0.8"/>
<text x="244.60" y="558.96" font-size="10.2" text-anchor="start" fill="#1a1a1a" stroke="#1a1a1a" stroke-width="0.12" textLength="44" lengthAdjust="spacingAndGlyphs" >CD4 CD25</text>
<rect x="228.2" y="564.04" width="7" height="6.4" fill="#a8f07c" stroke="#222" stroke-width="0.8"/>
<text x="244.60" y="570.94" font-size="10.2" text-anchor="start" fill="#1a1a1a" stroke="#1a1a1a" stroke-width="0.12" textLength="22" lengthAdjust="spacingAndGlyphs" >TREG</text>
<rect x="228.2" y="576.02" width="7" height="6.4" fill="#ffa800" stroke="#222" stroke-width="0.8"/>
<text x="244.60" y="582.92" font-size="10.2" text-anchor="start" fill="#1a1a1a" stroke="#1a1a1a" stroke-width="0.12" textLength="32" lengthAdjust="spacingAndGlyphs" >FOXP3+</text>
<rect x="228.2" y="588.00" width="7" height="6.4" fill="#f00000" stroke="#222" stroke-width="0.8"/>
<text x="244.60" y="594.90" font-size="10.2" text-anchor="start" fill="#1a1a1a" stroke="#1a1a1a" stroke-width="0.12" textLength="38" lengthAdjust="spacingAndGlyphs" >CD3 CD8</text>
<path d="M377.7 538.4V672H506" fill="none" stroke="#111" stroke-width="1.3"/>
<line x1="373.80" y1="672.00" x2="377.70" y2="672.00" stroke="#111" stroke-width="1.1" />
<text x="370.80" y="675.70" font-size="10.2" text-anchor="end" fill="#222" stroke="#222" stroke-width="0.12" >0</text>
<line x1="373.80" y1="646.00" x2="377.70" y2="646.00" stroke="#111" stroke-width="1.1" />
<text x="370.80" y="649.70" font-size="10.2" text-anchor="end" fill="#222" stroke="#222" stroke-width="0.12" >20</text>
<line x1="373.80" y1="620.00" x2="377.70" y2="620.00" stroke="#111" stroke-width="1.1" />
<text x="370.80" y="623.70" font-size="10.2" text-anchor="end" fill="#222" stroke="#222" stroke-width="0.12" >40</text>
<line x1="373.80" y1="594.00" x2="377.70" y2="594.00" stroke="#111" stroke-width="1.1" />
<text x="370.80" y="597.70" font-size="10.2" text-anchor="end" fill="#222" stroke="#222" stroke-width="0.12" >60</text>
<line x1="373.80" y1="568.00" x2="377.70" y2="568.00" stroke="#111" stroke-width="1.1" />
<text x="370.80" y="571.70" font-size="10.2" text-anchor="end" fill="#222" stroke="#222" stroke-width="0.12" >80</text>
<line x1="373.80" y1="542.00" x2="377.70" y2="542.00" stroke="#111" stroke-width="1.1" />
<text x="370.80" y="545.70" font-size="10.2" text-anchor="end" fill="#222" stroke="#222" stroke-width="0.12" >100</text>
<line x1="397.70" y1="672.00" x2="397.70" y2="676.30" stroke="#111" stroke-width="1.1" />
<line x1="442.70" y1="672.00" x2="442.70" y2="676.30" stroke="#111" stroke-width="1.1" />
<line x1="488.50" y1="672.00" x2="488.50" y2="676.30" stroke="#111" stroke-width="1.1" />
<text x="373.20" y="687.80" font-size="10" text-anchor="start" fill="#222" stroke="#222" stroke-width="0.12" textLength="48.8" lengthAdjust="spacingAndGlyphs" >LCH Lesion</text>
<text x="430.60" y="687.80" font-size="10" text-anchor="start" fill="#222" stroke="#222" stroke-width="0.12" textLength="24.2" lengthAdjust="spacingAndGlyphs" >Tonsil</text>
<text x="479.00" y="687.80" font-size="10" text-anchor="start" fill="#222" stroke="#222" stroke-width="0.12" textLength="18" lengthAdjust="spacingAndGlyphs" >Skin</text>
<text x="0.00" y="0.00" font-size="10.5" text-anchor="middle" fill="#222" stroke="#222" stroke-width="0.12" textLength="47.6" lengthAdjust="spacingAndGlyphs" transform="translate(348 606) rotate(-90)">% CD4/treg</text>
<circle cx="387.20" cy="571.10" r="3.0" fill="none" stroke="#2d4d8e" stroke-width="1.1"/>
<circle cx="391.20" cy="568.60" r="3.0" fill="none" stroke="#2d4d8e" stroke-width="1.1"/>
<circle cx="389.20" cy="567.10" r="3.0" fill="none" stroke="#2d4d8e" stroke-width="1.1"/>
<circle cx="388.20" cy="572.10" r="3.0" fill="none" stroke="#2d4d8e" stroke-width="1.1"/>
<circle cx="391.70" cy="571.10" r="3.0" fill="none" stroke="#2d4d8e" stroke-width="1.1"/>
<circle cx="389.20" cy="569.60" r="3.0" fill="none" stroke="#2d4d8e" stroke-width="1.1"/>
<rect x="401.50" y="643.00" width="5.6" height="5.6" fill="none" stroke="#b5173f" stroke-width="1.1"/>
<rect x="405.50" y="639.50" width="5.6" height="5.6" fill="none" stroke="#b5173f" stroke-width="1.1"/>
<rect x="403.50" y="638.00" width="5.6" height="5.6" fill="none" stroke="#b5173f" stroke-width="1.1"/>
<rect x="402.50" y="641.50" width="5.6" height="5.6" fill="none" stroke="#b5173f" stroke-width="1.1"/>
<rect x="406.00" y="642.00" width="5.6" height="5.6" fill="none" stroke="#b5173f" stroke-width="1.1"/>
<rect x="403.50" y="640.50" width="5.6" height="5.6" fill="none" stroke="#b5173f" stroke-width="1.1"/>
<circle cx="432.70" cy="547.50" r="3.0" fill="none" stroke="#2d4d8e" stroke-width="1.1"/>
<circle cx="436.70" cy="545.50" r="3.0" fill="none" stroke="#2d4d8e" stroke-width="1.1"/>
<circle cx="434.70" cy="545.00" r="3.0" fill="none" stroke="#2d4d8e" stroke-width="1.1"/>
<circle cx="433.70" cy="547.00" r="3.0" fill="none" stroke="#2d4d8e" stroke-width="1.1"/>
<circle cx="437.20" cy="548.00" r="3.0" fill="none" stroke="#2d4d8e" stroke-width="1.1"/>
<rect x="446.10" y="666.30" width="5.4" height="5.4" fill="none" stroke="#b5173f" stroke-width="1.1"/>
<rect x="450.10" y="663.80" width="5.4" height="5.4" fill="none" stroke="#b5173f" stroke-width="1.1"/>
<rect x="448.10" y="662.80" width="5.4" height="5.4" fill="none" stroke="#b5173f" stroke-width="1.1"/>
<rect x="447.10" y="665.80" width="5.4" height="5.4" fill="none" stroke="#b5173f" stroke-width="1.1"/>
<rect x="450.60" y="666.30" width="5.4" height="5.4" fill="none" stroke="#b5173f" stroke-width="1.1"/>
<rect x="448.10" y="664.80" width="5.4" height="5.4" fill="none" stroke="#b5173f" stroke-width="1.1"/>
<circle cx="482.00" cy="634.20" r="3.2" fill="none" stroke="#2d4d8e" stroke-width="1.1"/>
<circle cx="478.60" cy="638.50" r="3.2" fill="none" stroke="#2d4d8e" stroke-width="1.1"/>
<circle cx="478.60" cy="643.20" r="3.2" fill="none" stroke="#2d4d8e" stroke-width="1.1"/>
<line x1="478.80" y1="637.00" x2="478.80" y2="644.00" stroke="#2d4d8e" stroke-width="1.0" />
<line x1="474.50" y1="639.50" x2="484.00" y2="639.50" stroke="#111" stroke-width="1.3" />
<rect x="490.60" y="669.30" width="3.8" height="3.8" fill="none" stroke="#b5173f" stroke-width="1.0"/>
<rect x="493.60" y="669.30" width="3.8" height="3.8" fill="none" stroke="#b5173f" stroke-width="1.0"/>
<rect x="496.60" y="669.30" width="3.8" height="3.8" fill="none" stroke="#b5173f" stroke-width="1.0"/>
<rect x="499.60" y="669.30" width="3.8" height="3.8" fill="none" stroke="#b5173f" stroke-width="1.0"/>
<path d="M386.20 510.35V515.85M483.40 510.35V515.85M386.20 513.10H483.40" stroke="#222" stroke-width="1.25" fill="none"/>
<text x="434.80" y="510.20" font-size="9.5" text-anchor="middle" fill="#111" stroke="#111" stroke-width="0.12" font-weight="bold" textLength="15.5" lengthAdjust="spacingAndGlyphs" >****</text>
<path d="M386.20 529.95V535.45M433.50 529.95V535.45M386.20 532.70H433.50" stroke="#222" stroke-width="1.25" fill="none"/>
<text x="410.00" y="529.80" font-size="9.5" text-anchor="middle" fill="#111" stroke="#111" stroke-width="0.12" font-weight="bold" textLength="15.5" lengthAdjust="spacingAndGlyphs" >****</text>
<path d="M436.00 529.95V535.45M483.40 529.95V535.45M436.00 532.70H483.40" stroke="#222" stroke-width="1.25" fill="none"/>
<text x="459.70" y="529.80" font-size="9.5" text-anchor="middle" fill="#111" stroke="#111" stroke-width="0.12" font-weight="bold" textLength="15.5" lengthAdjust="spacingAndGlyphs" >****</text>
<path d="M402.80 596.95V602.45M500.30 596.95V602.45M402.80 599.70H500.30" stroke="#222" stroke-width="1.25" fill="none"/>
<text x="451.50" y="596.80" font-size="9.5" text-anchor="middle" fill="#111" stroke="#111" stroke-width="0.12" font-weight="bold" textLength="15.5" lengthAdjust="spacingAndGlyphs" >****</text>
<path d="M402.80 617.65V623.15M450.20 617.65V623.15M402.80 620.40H450.20" stroke="#222" stroke-width="1.25" fill="none"/>
<text x="426.50" y="617.50" font-size="9.5" text-anchor="middle" fill="#111" stroke="#111" stroke-width="0.12" font-weight="bold" textLength="15.5" lengthAdjust="spacingAndGlyphs" >****</text>
<path d="M454.80 617.65V623.15M501.90 617.65V623.15M454.80 620.40H501.90" stroke="#222" stroke-width="1.25" fill="none"/>
<text x="478.30" y="617.50" font-size="9.5" text-anchor="middle" fill="#111" stroke="#111" stroke-width="0.12" font-weight="bold" >*</text>
<circle cx="403.10" cy="706.60" r="3.3" fill="none" stroke="#2d4d8e" stroke-width="1.2"/>
<text x="410.50" y="709.70" font-size="9.2" text-anchor="start" fill="#2d4d8e" stroke="#2d4d8e" stroke-width="0.12" textLength="57.2" lengthAdjust="spacingAndGlyphs" >CD4 (non-Treg)</text>
<rect x="400.35" y="717.55" width="6.3" height="6.3" fill="none" stroke="#b5173f" stroke-width="1.2"/>
<text x="410.50" y="724.00" font-size="9.2" text-anchor="start" fill="#b5173f" stroke="#b5173f" stroke-width="0.12" >CD25<tspan font-size="6" dy="-4">Bright</tspan><tspan dy="4">FOXP3</tspan><tspan font-size="6" dy="-4">+</tspan></text>
<rect x="0" y="0" width="520" height="1.4" fill="#000"/>
<rect x="0" y="0" width="1.4" height="803" fill="#000"/>
<rect x="518.5" y="0" width="1.5" height="803" fill="#000"/>
<rect x="0" y="801" width="520" height="2" fill="#000"/>
<text x="8.60" y="20.60" font-size="14.2" text-anchor="start" fill="#000" stroke="#000" stroke-width="0.12" font-weight="bold" >A</text>
<text x="213.50" y="20.20" font-size="14.2" text-anchor="start" fill="#000" stroke="#000" stroke-width="0.12" font-weight="bold" >B</text>
<text x="8.80" y="248.20" font-size="14.2" text-anchor="start" fill="#000" stroke="#000" stroke-width="0.12" font-weight="bold" >C</text>
<text x="274.80" y="248.20" font-size="14.2" text-anchor="start" fill="#000" stroke="#000" stroke-width="0.12" font-weight="bold" >E</text>
<text x="8.80" y="495.40" font-size="14.2" text-anchor="start" fill="#000" stroke="#000" stroke-width="0.12" font-weight="bold" >D</text>
<text x="324.80" y="495.20" font-size="14.2" text-anchor="start" fill="#000" stroke="#000" stroke-width="0.12" font-weight="bold" >F</text>
</svg></body></html>
